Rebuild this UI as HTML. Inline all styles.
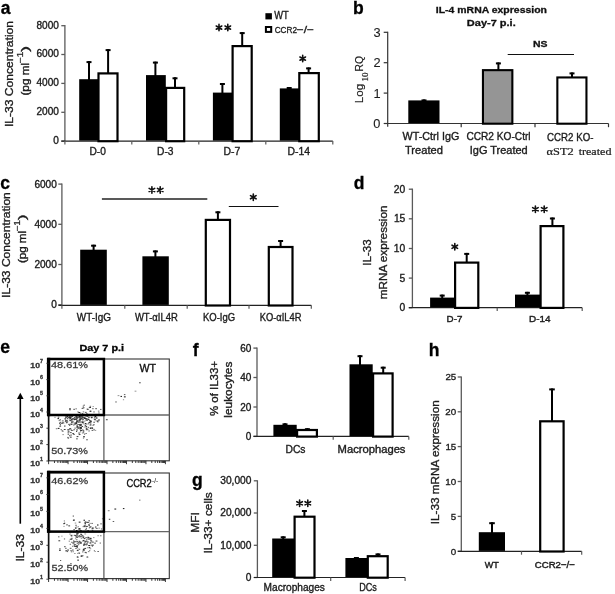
<!DOCTYPE html>
<html><head><meta charset="utf-8"><style>
html,body{margin:0;padding:0;background:#fff;}
body{width:615px;height:594px;overflow:hidden;}
svg{display:block;font-family:"Liberation Sans",sans-serif;filter:grayscale(1);}
</style></head><body>
<svg width="615" height="594" viewBox="0 0 615 594" fill="#1c1c1c">
<rect width="615" height="594" fill="#fff"/>
<text x="0.67" y="13.70" font-size="17.5" font-weight="bold" fill="#000" stroke="#000" stroke-width="0.3">a</text>
<line x1="64.90" y1="25.00" x2="64.90" y2="141.10" stroke="#5a5a5a" stroke-width="1.3"/>
<line x1="61.30" y1="25.70" x2="64.90" y2="25.70" stroke="#5a5a5a" stroke-width="1.3"/>
<line x1="61.30" y1="54.50" x2="64.90" y2="54.50" stroke="#5a5a5a" stroke-width="1.3"/>
<line x1="61.30" y1="83.40" x2="64.90" y2="83.40" stroke="#5a5a5a" stroke-width="1.3"/>
<line x1="61.30" y1="112.30" x2="64.90" y2="112.30" stroke="#5a5a5a" stroke-width="1.3"/>
<line x1="61.30" y1="141.10" x2="64.90" y2="141.10" stroke="#5a5a5a" stroke-width="1.3"/>
<text x="36.48" y="28.50" font-size="10.1" textLength="22.47" lengthAdjust="spacingAndGlyphs" stroke="#1c1c1c" stroke-width="0.35">8000</text>
<text x="36.48" y="57.30" font-size="10.1" textLength="22.47" lengthAdjust="spacingAndGlyphs" stroke="#1c1c1c" stroke-width="0.35">6000</text>
<text x="36.48" y="86.20" font-size="10.1" textLength="22.47" lengthAdjust="spacingAndGlyphs" stroke="#1c1c1c" stroke-width="0.35">4000</text>
<text x="36.48" y="115.10" font-size="10.1" textLength="22.47" lengthAdjust="spacingAndGlyphs" stroke="#1c1c1c" stroke-width="0.35">2000</text>
<text x="53.35" y="143.90" font-size="10.1" textLength="5.62" lengthAdjust="spacingAndGlyphs" stroke="#1c1c1c" stroke-width="0.35">0</text>
<line x1="61.30" y1="141.10" x2="332.80" y2="141.10" stroke="#222" stroke-width="1.2"/>
<line x1="64.90" y1="141.10" x2="64.90" y2="144.50" stroke="#5a5a5a" stroke-width="1.2"/>
<line x1="131.80" y1="141.10" x2="131.80" y2="144.50" stroke="#5a5a5a" stroke-width="1.2"/>
<line x1="198.80" y1="141.10" x2="198.80" y2="144.50" stroke="#5a5a5a" stroke-width="1.2"/>
<line x1="265.80" y1="141.10" x2="265.80" y2="144.50" stroke="#5a5a5a" stroke-width="1.2"/>
<line x1="332.80" y1="141.10" x2="332.80" y2="144.50" stroke="#5a5a5a" stroke-width="1.2"/>
<line x1="89.00" y1="80.20" x2="89.00" y2="61.10" stroke="#000" stroke-width="2"/>
<line x1="86.50" y1="62.10" x2="91.50" y2="62.10" stroke="#000" stroke-width="2"/>
<rect x="79.20" y="79.20" width="19.40" height="61.40" fill="#000"/>
<line x1="108.10" y1="73.30" x2="108.10" y2="49.10" stroke="#000" stroke-width="2"/>
<line x1="105.60" y1="50.10" x2="110.60" y2="50.10" stroke="#000" stroke-width="2"/>
<rect x="98.50" y="73.40" width="19.00" height="67.80" fill="#fff" stroke="#000" stroke-width="2.2"/>
<line x1="155.40" y1="76.10" x2="155.40" y2="61.60" stroke="#000" stroke-width="2"/>
<line x1="152.90" y1="62.60" x2="157.90" y2="62.60" stroke="#000" stroke-width="2"/>
<rect x="146.00" y="75.10" width="19.80" height="65.50" fill="#000"/>
<line x1="175.00" y1="87.80" x2="175.00" y2="77.30" stroke="#000" stroke-width="2"/>
<line x1="172.50" y1="78.30" x2="177.50" y2="78.30" stroke="#000" stroke-width="2"/>
<rect x="166.10" y="87.90" width="18.10" height="53.30" fill="#fff" stroke="#000" stroke-width="2.2"/>
<line x1="222.40" y1="93.60" x2="222.40" y2="83.00" stroke="#000" stroke-width="2"/>
<line x1="219.90" y1="84.00" x2="224.90" y2="84.00" stroke="#000" stroke-width="2"/>
<rect x="212.90" y="92.60" width="19.10" height="48.00" fill="#000"/>
<line x1="242.20" y1="46.00" x2="242.20" y2="32.10" stroke="#000" stroke-width="2"/>
<line x1="239.70" y1="33.10" x2="244.70" y2="33.10" stroke="#000" stroke-width="2"/>
<rect x="232.60" y="46.10" width="19.10" height="95.10" fill="#fff" stroke="#000" stroke-width="2.2"/>
<line x1="289.20" y1="89.40" x2="289.20" y2="87.00" stroke="#000" stroke-width="2"/>
<line x1="286.70" y1="88.00" x2="291.70" y2="88.00" stroke="#000" stroke-width="2"/>
<rect x="279.80" y="88.40" width="19.20" height="52.20" fill="#000"/>
<line x1="308.60" y1="73.00" x2="308.60" y2="67.40" stroke="#000" stroke-width="2"/>
<line x1="306.10" y1="68.40" x2="311.10" y2="68.40" stroke="#000" stroke-width="2"/>
<rect x="299.30" y="73.10" width="19.50" height="68.10" fill="#fff" stroke="#000" stroke-width="2.2"/>
<path d="M219.00,24.40L219.00,30.80M216.23,26.00L221.77,29.20M221.77,26.00L216.23,29.20" stroke="#111" stroke-width="1.6" stroke-linecap="round" fill="none"/>
<path d="M227.80,24.40L227.80,30.80M225.03,26.00L230.57,29.20M230.57,26.00L225.03,29.20" stroke="#111" stroke-width="1.6" stroke-linecap="round" fill="none"/>
<path d="M302.70,55.40L302.70,61.80M299.93,57.00L305.47,60.20M305.47,57.00L299.93,60.20" stroke="#111" stroke-width="1.6" stroke-linecap="round" fill="none"/>
<rect x="265.40" y="13.20" width="6.50" height="6.20" fill="#000"/>
<text x="274.35" y="18.90" font-size="10.0" textLength="14.43" lengthAdjust="spacingAndGlyphs" stroke="#1c1c1c" stroke-width="0.35">WT</text>
<rect x="265.90" y="27.00" width="5.30" height="4.90" fill="#fff" stroke="#000" stroke-width="2.0"/>
<text x="274.69" y="32.50" font-size="9.9" textLength="22.34" lengthAdjust="spacingAndGlyphs" stroke="#1c1c1c" stroke-width="0.34125">CCR2</text>
<text x="296.70" y="32.50" font-size="9.9" textLength="17.31" lengthAdjust="spacingAndGlyphs" stroke="#1c1c1c" stroke-width="0.34125">−/−</text>
<text x="13.00" y="127.09" font-size="11.8" textLength="106.11" lengthAdjust="spacingAndGlyphs" transform="rotate(-90 13.00 127.09)" stroke="#1c1c1c" stroke-width="0.35">IL-33 Concentration</text>
<text x="28.60" y="95.61" font-size="11.4" textLength="32.83" lengthAdjust="spacingAndGlyphs" transform="rotate(-90 28.60 95.61)" stroke="#1c1c1c" stroke-width="0.35">(pg ml</text>
<text x="23.20" y="63.64" font-size="8.6" textLength="12.10" lengthAdjust="spacingAndGlyphs" transform="rotate(-90 23.20 63.64)" stroke="#1c1c1c" stroke-width="0.22749999999999995">−1</text>
<text x="28.60" y="51.97" font-size="11.4" textLength="6.01" lengthAdjust="spacingAndGlyphs" transform="rotate(-90 28.60 51.97)" stroke="#1c1c1c" stroke-width="0.35">)</text>
<text x="89.49" y="155.00" font-size="10.0" textLength="16.38" lengthAdjust="spacingAndGlyphs" stroke="#1c1c1c" stroke-width="0.35">D-0</text>
<text x="157.08" y="155.00" font-size="10.0" textLength="16.44" lengthAdjust="spacingAndGlyphs" stroke="#1c1c1c" stroke-width="0.35">D-3</text>
<text x="223.57" y="155.00" font-size="10.0" textLength="16.77" lengthAdjust="spacingAndGlyphs" stroke="#1c1c1c" stroke-width="0.35">D-7</text>
<text x="287.47" y="155.00" font-size="10.0" textLength="22.57" lengthAdjust="spacingAndGlyphs" stroke="#1c1c1c" stroke-width="0.35">D-14</text>
<text x="352.96" y="13.80" font-size="17.5" font-weight="bold" fill="#000" stroke="#000" stroke-width="0.3">b</text>
<text x="435.82" y="13.20" font-size="9.4" textLength="111.13" lengthAdjust="spacingAndGlyphs" font-weight="bold" fill="#111" stroke="#111" stroke-width="0.3">IL-4 mRNA expression</text>
<text x="466.89" y="26.40" font-size="9.4" textLength="48.84" lengthAdjust="spacingAndGlyphs" font-weight="bold" fill="#111" stroke="#111" stroke-width="0.3">Day-7 p.i.</text>
<line x1="387.70" y1="31.80" x2="387.70" y2="126.80" stroke="#333" stroke-width="1.2"/>
<line x1="383.70" y1="32.30" x2="387.70" y2="32.30" stroke="#333" stroke-width="1.2"/>
<line x1="383.70" y1="62.70" x2="387.70" y2="62.70" stroke="#333" stroke-width="1.2"/>
<line x1="383.70" y1="93.10" x2="387.70" y2="93.10" stroke="#333" stroke-width="1.2"/>
<line x1="383.70" y1="123.50" x2="387.70" y2="123.50" stroke="#333" stroke-width="1.2"/>
<text x="373.41" y="36.80" font-size="12.8" textLength="7.12" lengthAdjust="spacingAndGlyphs" stroke="#1c1c1c" stroke-width="0.1">3</text>
<text x="373.54" y="67.20" font-size="12.8" textLength="7.12" lengthAdjust="spacingAndGlyphs" stroke="#1c1c1c" stroke-width="0.1">2</text>
<text x="373.47" y="97.60" font-size="12.8" textLength="7.12" lengthAdjust="spacingAndGlyphs" stroke="#1c1c1c" stroke-width="0.1">1</text>
<text x="373.34" y="128.00" font-size="12.8" textLength="7.12" lengthAdjust="spacingAndGlyphs" stroke="#1c1c1c" stroke-width="0.1">0</text>
<line x1="387.70" y1="123.50" x2="608.50" y2="123.50" stroke="#333" stroke-width="1.2"/>
<line x1="461.20" y1="123.50" x2="461.20" y2="127.20" stroke="#333" stroke-width="1.2"/>
<line x1="535.00" y1="123.50" x2="535.00" y2="127.20" stroke="#333" stroke-width="1.2"/>
<line x1="608.50" y1="123.50" x2="608.50" y2="127.20" stroke="#333" stroke-width="1.2"/>
<line x1="424.00" y1="101.50" x2="424.00" y2="99.40" stroke="#000" stroke-width="2"/>
<line x1="421.50" y1="100.40" x2="426.50" y2="100.40" stroke="#000" stroke-width="2"/>
<rect x="408.30" y="100.40" width="31.20" height="22.70" fill="#000"/>
<line x1="498.40" y1="70.00" x2="498.40" y2="62.40" stroke="#000" stroke-width="2"/>
<line x1="495.90" y1="63.40" x2="500.90" y2="63.40" stroke="#000" stroke-width="2"/>
<rect x="482.95" y="70.15" width="29.40" height="53.55" fill="#959595" stroke="#000" stroke-width="2.1"/>
<line x1="572.00" y1="77.50" x2="572.00" y2="72.40" stroke="#000" stroke-width="2"/>
<line x1="569.50" y1="73.40" x2="574.50" y2="73.40" stroke="#000" stroke-width="2"/>
<rect x="557.35" y="77.45" width="29.10" height="46.25" fill="#fff" stroke="#000" stroke-width="2.1"/>
<line x1="507.70" y1="54.50" x2="574.00" y2="54.50" stroke="#111" stroke-width="1.2"/>
<text x="533.02" y="47.00" font-size="9.4" textLength="14.49" lengthAdjust="spacingAndGlyphs" font-weight="bold" fill="#111" stroke="#111" stroke-width="0.3">NS</text>
<text x="402.55" y="140.40" font-size="10.4" textLength="56.73" lengthAdjust="spacingAndGlyphs" stroke="#1c1c1c" stroke-width="0.35">WT-Ctrl IgG</text>
<text x="404.98" y="154.40" font-size="10.4" textLength="37.94" lengthAdjust="spacingAndGlyphs" stroke="#1c1c1c" stroke-width="0.35">Treated</text>
<text x="466.39" y="140.40" font-size="10.4" textLength="64.20" lengthAdjust="spacingAndGlyphs" stroke="#1c1c1c" stroke-width="0.35">CCR2 KO-Ctrl</text>
<text x="469.81" y="154.40" font-size="10.4" textLength="57.91" lengthAdjust="spacingAndGlyphs" stroke="#1c1c1c" stroke-width="0.35">IgG Treated</text>
<text x="547.12" y="140.80" font-size="10.4" textLength="46.31" lengthAdjust="spacingAndGlyphs" stroke="#1c1c1c" stroke-width="0.35">CCR2 KO-</text>
<text x="546.61" y="154.80" font-size="11.3" textLength="27.09" lengthAdjust="spacingAndGlyphs" font-family="'Liberation Serif',serif" stroke="#1c1c1c" stroke-width="0.22">αST2</text>
<text x="578.68" y="154.80" font-size="11.3" textLength="32.74" lengthAdjust="spacingAndGlyphs" font-family="'Liberation Serif',serif" stroke="#1c1c1c" stroke-width="0.22">treated</text>
<text x="363.40" y="103.23" font-size="11.0" textLength="19.32" lengthAdjust="spacingAndGlyphs" transform="rotate(-90 363.40 103.23)" stroke="#1c1c1c" stroke-width="0.15">Log</text>
<text x="368.10" y="81.58" font-size="9.0" textLength="9.14" lengthAdjust="spacingAndGlyphs" font-family="'Liberation Serif',serif" transform="rotate(-90 368.10 81.58)" stroke="#1c1c1c" stroke-width="0.22">10</text>
<text x="363.10" y="71.43" font-size="11.0" textLength="15.55" lengthAdjust="spacingAndGlyphs" transform="rotate(-90 363.10 71.43)" stroke="#1c1c1c" stroke-width="0.15">RQ</text>
<text x="0.30" y="188.70" font-size="17.5" font-weight="bold" fill="#000" stroke="#000" stroke-width="0.3">c</text>
<line x1="61.90" y1="183.50" x2="61.90" y2="305.30" stroke="#5a5a5a" stroke-width="1.3"/>
<line x1="58.30" y1="184.10" x2="61.90" y2="184.10" stroke="#5a5a5a" stroke-width="1.3"/>
<line x1="58.30" y1="224.30" x2="61.90" y2="224.30" stroke="#5a5a5a" stroke-width="1.3"/>
<line x1="58.30" y1="264.50" x2="61.90" y2="264.50" stroke="#5a5a5a" stroke-width="1.3"/>
<line x1="58.30" y1="304.80" x2="61.90" y2="304.80" stroke="#5a5a5a" stroke-width="1.3"/>
<text x="34.38" y="187.70" font-size="10.1" textLength="22.47" lengthAdjust="spacingAndGlyphs" stroke="#1c1c1c" stroke-width="0.35">6000</text>
<text x="34.38" y="227.90" font-size="10.1" textLength="22.47" lengthAdjust="spacingAndGlyphs" stroke="#1c1c1c" stroke-width="0.35">4000</text>
<text x="34.38" y="268.10" font-size="10.1" textLength="22.47" lengthAdjust="spacingAndGlyphs" stroke="#1c1c1c" stroke-width="0.35">2000</text>
<text x="51.25" y="308.40" font-size="10.1" textLength="5.62" lengthAdjust="spacingAndGlyphs" stroke="#1c1c1c" stroke-width="0.35">0</text>
<line x1="58.40" y1="305.30" x2="311.30" y2="305.30" stroke="#222" stroke-width="1.2"/>
<line x1="61.90" y1="305.30" x2="61.90" y2="308.70" stroke="#5a5a5a" stroke-width="1.2"/>
<line x1="124.80" y1="305.30" x2="124.80" y2="308.70" stroke="#5a5a5a" stroke-width="1.2"/>
<line x1="187.20" y1="305.30" x2="187.20" y2="308.70" stroke="#5a5a5a" stroke-width="1.2"/>
<line x1="249.00" y1="305.30" x2="249.00" y2="308.70" stroke="#5a5a5a" stroke-width="1.2"/>
<line x1="311.30" y1="305.30" x2="311.30" y2="308.70" stroke="#5a5a5a" stroke-width="1.2"/>
<line x1="93.60" y1="251.00" x2="93.60" y2="244.70" stroke="#000" stroke-width="2"/>
<line x1="91.10" y1="245.70" x2="96.10" y2="245.70" stroke="#000" stroke-width="2"/>
<rect x="80.20" y="249.70" width="26.60" height="55.20" fill="#000"/>
<line x1="155.40" y1="258.00" x2="155.40" y2="250.40" stroke="#000" stroke-width="2"/>
<line x1="152.90" y1="251.40" x2="157.90" y2="251.40" stroke="#000" stroke-width="2"/>
<rect x="142.40" y="256.30" width="26.40" height="48.60" fill="#000"/>
<line x1="217.90" y1="220.00" x2="217.90" y2="211.30" stroke="#000" stroke-width="2"/>
<line x1="215.40" y1="212.30" x2="220.40" y2="212.30" stroke="#000" stroke-width="2"/>
<rect x="205.80" y="219.90" width="24.20" height="85.60" fill="#fff" stroke="#000" stroke-width="2.2"/>
<line x1="280.60" y1="247.00" x2="280.60" y2="240.00" stroke="#000" stroke-width="2"/>
<line x1="278.10" y1="241.00" x2="283.10" y2="241.00" stroke="#000" stroke-width="2"/>
<rect x="268.80" y="247.00" width="23.70" height="58.50" fill="#fff" stroke="#000" stroke-width="2.2"/>
<line x1="101.90" y1="199.00" x2="207.30" y2="199.00" stroke="#222" stroke-width="1.7"/>
<path d="M151.90,186.80L151.90,193.20M149.13,188.40L154.67,191.60M154.67,188.40L149.13,191.60" stroke="#111" stroke-width="1.6" stroke-linecap="round" fill="none"/>
<path d="M160.20,186.80L160.20,193.20M157.43,188.40L162.97,191.60M162.97,188.40L157.43,191.60" stroke="#111" stroke-width="1.6" stroke-linecap="round" fill="none"/>
<line x1="228.80" y1="206.50" x2="278.50" y2="206.50" stroke="#111" stroke-width="1.2"/>
<path d="M253.30,194.00L253.30,200.40M250.53,195.60L256.07,198.80M256.07,195.60L250.53,198.80" stroke="#111" stroke-width="1.6" stroke-linecap="round" fill="none"/>
<text x="9.70" y="297.88" font-size="11.8" textLength="105.71" lengthAdjust="spacingAndGlyphs" transform="rotate(-90 9.70 297.88)" stroke="#1c1c1c" stroke-width="0.35">IL-33 Concentration</text>
<text x="25.60" y="263.10" font-size="11.4" textLength="32.21" lengthAdjust="spacingAndGlyphs" transform="rotate(-90 25.60 263.10)" stroke="#1c1c1c" stroke-width="0.35">(pg ml</text>
<text x="20.20" y="231.73" font-size="8.6" textLength="11.87" lengthAdjust="spacingAndGlyphs" transform="rotate(-90 20.20 231.73)" stroke="#1c1c1c" stroke-width="0.22749999999999995">−1</text>
<text x="25.60" y="220.28" font-size="11.4" textLength="5.89" lengthAdjust="spacingAndGlyphs" transform="rotate(-90 25.60 220.28)" stroke="#1c1c1c" stroke-width="0.35">)</text>
<text x="76.85" y="321.10" font-size="10.0" textLength="34.19" lengthAdjust="spacingAndGlyphs" stroke="#1c1c1c" stroke-width="0.35">WT-IgG</text>
<text x="134.95" y="321.10" font-size="10.0" textLength="42.80" lengthAdjust="spacingAndGlyphs" stroke="#1c1c1c" stroke-width="0.35">WT-αIL4R</text>
<text x="202.94" y="321.10" font-size="10.0" textLength="32.17" lengthAdjust="spacingAndGlyphs" stroke="#1c1c1c" stroke-width="0.35">KO-IgG</text>
<text x="259.65" y="321.10" font-size="10.0" textLength="41.80" lengthAdjust="spacingAndGlyphs" stroke="#1c1c1c" stroke-width="0.35">KO-αIL4R</text>
<text x="353.80" y="188.70" font-size="17.5" font-weight="bold" fill="#000" stroke="#000" stroke-width="0.3">d</text>
<line x1="412.40" y1="188.60" x2="412.40" y2="307.70" stroke="#5a5a5a" stroke-width="1.3"/>
<line x1="408.80" y1="189.20" x2="412.40" y2="189.20" stroke="#5a5a5a" stroke-width="1.3"/>
<line x1="408.80" y1="218.80" x2="412.40" y2="218.80" stroke="#5a5a5a" stroke-width="1.3"/>
<line x1="408.80" y1="248.50" x2="412.40" y2="248.50" stroke="#5a5a5a" stroke-width="1.3"/>
<line x1="408.80" y1="278.10" x2="412.40" y2="278.10" stroke="#5a5a5a" stroke-width="1.3"/>
<line x1="408.80" y1="307.70" x2="412.40" y2="307.70" stroke="#5a5a5a" stroke-width="1.3"/>
<text x="393.83" y="192.60" font-size="10.3" textLength="11.46" lengthAdjust="spacingAndGlyphs" stroke="#1c1c1c" stroke-width="0.35">20</text>
<text x="393.88" y="222.20" font-size="10.3" textLength="11.46" lengthAdjust="spacingAndGlyphs" stroke="#1c1c1c" stroke-width="0.35">15</text>
<text x="393.83" y="251.90" font-size="10.3" textLength="11.46" lengthAdjust="spacingAndGlyphs" stroke="#1c1c1c" stroke-width="0.35">10</text>
<text x="399.60" y="281.50" font-size="10.3" textLength="5.73" lengthAdjust="spacingAndGlyphs" stroke="#1c1c1c" stroke-width="0.35">5</text>
<text x="399.54" y="311.10" font-size="10.3" textLength="5.73" lengthAdjust="spacingAndGlyphs" stroke="#1c1c1c" stroke-width="0.35">0</text>
<line x1="408.80" y1="307.70" x2="582.20" y2="307.70" stroke="#222" stroke-width="1.2"/>
<line x1="497.20" y1="307.70" x2="497.20" y2="311.10" stroke="#5a5a5a" stroke-width="1.2"/>
<line x1="582.20" y1="307.70" x2="582.20" y2="311.10" stroke="#5a5a5a" stroke-width="1.2"/>
<line x1="442.20" y1="298.00" x2="442.20" y2="294.60" stroke="#000" stroke-width="2"/>
<line x1="439.70" y1="295.60" x2="444.70" y2="295.60" stroke="#000" stroke-width="2"/>
<rect x="430.10" y="297.60" width="24.50" height="9.70" fill="#000"/>
<line x1="466.70" y1="262.00" x2="466.70" y2="252.90" stroke="#000" stroke-width="2"/>
<line x1="464.20" y1="253.90" x2="469.20" y2="253.90" stroke="#000" stroke-width="2"/>
<rect x="455.10" y="262.60" width="23.20" height="45.30" fill="#fff" stroke="#000" stroke-width="2.2"/>
<line x1="527.40" y1="295.00" x2="527.40" y2="291.80" stroke="#000" stroke-width="2"/>
<line x1="524.90" y1="292.80" x2="529.90" y2="292.80" stroke="#000" stroke-width="2"/>
<rect x="515.00" y="294.60" width="25.00" height="12.70" fill="#000"/>
<line x1="552.40" y1="226.00" x2="552.40" y2="217.50" stroke="#000" stroke-width="2"/>
<line x1="549.90" y1="218.50" x2="554.90" y2="218.50" stroke="#000" stroke-width="2"/>
<rect x="540.60" y="226.10" width="22.80" height="81.80" fill="#fff" stroke="#000" stroke-width="2.2"/>
<path d="M454.80,243.60L454.80,250.00M452.03,245.20L457.57,248.40M457.57,245.20L452.03,248.40" stroke="#111" stroke-width="1.6" stroke-linecap="round" fill="none"/>
<path d="M535.40,206.00L535.40,212.40M532.63,207.60L538.17,210.80M538.17,207.60L532.63,210.80" stroke="#111" stroke-width="1.6" stroke-linecap="round" fill="none"/>
<path d="M544.20,206.00L544.20,212.40M541.43,207.60L546.97,210.80M546.97,207.60L541.43,210.80" stroke="#111" stroke-width="1.6" stroke-linecap="round" fill="none"/>
<text x="371.40" y="265.64" font-size="11.8" textLength="26.29" lengthAdjust="spacingAndGlyphs" transform="rotate(-90 371.40 265.64)" stroke="#1c1c1c" stroke-width="0.35">IL-33</text>
<text x="386.80" y="299.26" font-size="11.6" textLength="93.76" lengthAdjust="spacingAndGlyphs" transform="rotate(-90 386.80 299.26)" stroke="#1c1c1c" stroke-width="0.35">mRNA expression</text>
<text x="446.62" y="321.70" font-size="9.8" textLength="15.79" lengthAdjust="spacingAndGlyphs" stroke="#1c1c1c" stroke-width="0.4">D-7</text>
<text x="529.01" y="321.70" font-size="9.8" textLength="21.52" lengthAdjust="spacingAndGlyphs" stroke="#1c1c1c" stroke-width="0.4">D-14</text>
<text x="0.30" y="353.40" font-size="17.5" font-weight="bold" fill="#000" stroke="#000" stroke-width="0.3">e</text>
<text x="79.50" y="351.40" font-size="9.6" textLength="44.54" lengthAdjust="spacingAndGlyphs" font-weight="bold" fill="#000" stroke="#000" stroke-width="0.3">Day 7 p.i</text>
<line x1="20.30" y1="397.50" x2="20.30" y2="523.70" stroke="#000" stroke-width="1.6"/>
<polygon points="20.3,392.8 17.0,399.0 23.6,399.0" fill="#000"/>
<text x="24.40" y="561.59" font-size="11.0" textLength="27.56" lengthAdjust="spacingAndGlyphs" transform="rotate(-90 24.40 561.59)" stroke="#1c1c1c" stroke-width="0.35">IL-33</text>
<rect x="48.60" y="359.00" width="120.70" height="101.80" fill="#fff" stroke="#333" stroke-width="1.1"/>
<line x1="103.90" y1="359.00" x2="103.90" y2="460.80" stroke="#555" stroke-width="1.2"/>
<line x1="48.60" y1="415.00" x2="169.30" y2="415.00" stroke="#666" stroke-width="1.3"/>
<rect x="64.0" y="425.6" width="1.5" height="0.9" fill="#2a2a2a" fill-opacity="1.0"/>
<rect x="88.4" y="419.4" width="1.5" height="0.9" fill="#2a2a2a" fill-opacity="0.55"/>
<rect x="62.9" y="422.5" width="1.5" height="1.1" fill="#2a2a2a" fill-opacity="0.55"/>
<rect x="82.8" y="430.7" width="1.5" height="0.9" fill="#2a2a2a" fill-opacity="1.0"/>
<rect x="85.3" y="426.3" width="1.8" height="0.9" fill="#2a2a2a" fill-opacity="0.85"/>
<rect x="94.4" y="429.9" width="1.8" height="0.9" fill="#2a2a2a" fill-opacity="0.55"/>
<rect x="76.4" y="421.1" width="1.5" height="1.1" fill="#2a2a2a" fill-opacity="0.7"/>
<rect x="78.6" y="424.0" width="1.2" height="0.9" fill="#2a2a2a" fill-opacity="1.0"/>
<rect x="73.7" y="422.6" width="1.8" height="0.9" fill="#2a2a2a" fill-opacity="0.85"/>
<rect x="80.5" y="427.8" width="1.2" height="1.1" fill="#2a2a2a" fill-opacity="1.0"/>
<rect x="89.6" y="424.5" width="1.8" height="1.1" fill="#2a2a2a" fill-opacity="0.85"/>
<rect x="57.8" y="427.9" width="1.2" height="1.1" fill="#2a2a2a" fill-opacity="0.85"/>
<rect x="61.9" y="421.8" width="1.8" height="0.9" fill="#2a2a2a" fill-opacity="0.85"/>
<rect x="61.3" y="423.0" width="1.8" height="0.9" fill="#2a2a2a" fill-opacity="0.7"/>
<rect x="68.9" y="424.5" width="1.2" height="1.1" fill="#2a2a2a" fill-opacity="0.55"/>
<rect x="74.3" y="427.6" width="1.8" height="1.1" fill="#2a2a2a" fill-opacity="0.55"/>
<rect x="76.5" y="425.6" width="1.5" height="0.9" fill="#2a2a2a" fill-opacity="0.7"/>
<rect x="78.6" y="416.0" width="1.2" height="1.1" fill="#2a2a2a" fill-opacity="0.7"/>
<rect x="83.7" y="417.3" width="1.8" height="0.9" fill="#2a2a2a" fill-opacity="1.0"/>
<rect x="98.1" y="419.5" width="1.8" height="0.9" fill="#2a2a2a" fill-opacity="1.0"/>
<rect x="85.0" y="423.0" width="1.2" height="1.1" fill="#2a2a2a" fill-opacity="1.0"/>
<rect x="88.0" y="418.8" width="1.2" height="1.1" fill="#2a2a2a" fill-opacity="1.0"/>
<rect x="88.5" y="422.1" width="1.5" height="1.1" fill="#2a2a2a" fill-opacity="1.0"/>
<rect x="91.4" y="427.4" width="1.5" height="0.9" fill="#2a2a2a" fill-opacity="1.0"/>
<rect x="79.1" y="417.5" width="1.2" height="1.1" fill="#2a2a2a" fill-opacity="0.55"/>
<rect x="85.9" y="426.3" width="1.2" height="0.9" fill="#2a2a2a" fill-opacity="1.0"/>
<rect x="95.6" y="420.4" width="1.8" height="1.1" fill="#2a2a2a" fill-opacity="0.55"/>
<rect x="83.6" y="426.6" width="1.8" height="0.9" fill="#2a2a2a" fill-opacity="0.55"/>
<rect x="80.6" y="424.5" width="1.5" height="1.1" fill="#2a2a2a" fill-opacity="1.0"/>
<rect x="79.5" y="418.8" width="1.2" height="1.1" fill="#2a2a2a" fill-opacity="0.7"/>
<rect x="66.3" y="420.2" width="1.5" height="0.9" fill="#2a2a2a" fill-opacity="0.85"/>
<rect x="84.0" y="433.6" width="1.2" height="1.1" fill="#2a2a2a" fill-opacity="0.7"/>
<rect x="88.2" y="430.4" width="1.8" height="1.1" fill="#2a2a2a" fill-opacity="0.55"/>
<rect x="86.1" y="427.9" width="1.2" height="0.9" fill="#2a2a2a" fill-opacity="0.55"/>
<rect x="79.5" y="428.4" width="1.2" height="0.9" fill="#2a2a2a" fill-opacity="0.7"/>
<rect x="97.0" y="420.7" width="1.2" height="1.1" fill="#2a2a2a" fill-opacity="0.85"/>
<rect x="69.9" y="436.7" width="1.8" height="0.9" fill="#2a2a2a" fill-opacity="1.0"/>
<rect x="80.2" y="429.8" width="1.8" height="1.1" fill="#2a2a2a" fill-opacity="0.55"/>
<rect x="79.4" y="428.3" width="1.8" height="1.1" fill="#2a2a2a" fill-opacity="0.55"/>
<rect x="78.9" y="416.8" width="1.2" height="1.1" fill="#2a2a2a" fill-opacity="0.7"/>
<rect x="76.3" y="425.6" width="1.8" height="0.9" fill="#2a2a2a" fill-opacity="1.0"/>
<rect x="89.8" y="428.0" width="1.2" height="0.9" fill="#2a2a2a" fill-opacity="1.0"/>
<rect x="78.2" y="432.5" width="1.8" height="1.1" fill="#2a2a2a" fill-opacity="0.7"/>
<rect x="69.1" y="428.6" width="1.5" height="1.1" fill="#2a2a2a" fill-opacity="0.85"/>
<rect x="89.7" y="421.0" width="1.5" height="0.9" fill="#2a2a2a" fill-opacity="0.85"/>
<rect x="57.8" y="416.7" width="1.5" height="0.9" fill="#2a2a2a" fill-opacity="0.85"/>
<rect x="80.1" y="426.7" width="1.2" height="0.9" fill="#2a2a2a" fill-opacity="0.55"/>
<rect x="94.5" y="416.0" width="1.8" height="1.1" fill="#2a2a2a" fill-opacity="1.0"/>
<rect x="77.5" y="427.5" width="1.8" height="0.9" fill="#2a2a2a" fill-opacity="1.0"/>
<rect x="86.4" y="439.2" width="1.2" height="1.1" fill="#2a2a2a" fill-opacity="1.0"/>
<rect x="88.5" y="416.6" width="1.2" height="1.1" fill="#2a2a2a" fill-opacity="0.55"/>
<rect x="73.0" y="424.6" width="1.5" height="0.9" fill="#2a2a2a" fill-opacity="0.7"/>
<rect x="78.8" y="433.9" width="1.8" height="0.9" fill="#2a2a2a" fill-opacity="0.85"/>
<rect x="76.6" y="436.0" width="1.8" height="1.1" fill="#2a2a2a" fill-opacity="0.85"/>
<rect x="70.0" y="419.7" width="1.5" height="1.1" fill="#2a2a2a" fill-opacity="0.55"/>
<rect x="85.4" y="433.0" width="1.5" height="0.9" fill="#2a2a2a" fill-opacity="0.7"/>
<rect x="84.7" y="425.1" width="1.5" height="0.9" fill="#2a2a2a" fill-opacity="0.85"/>
<rect x="57.5" y="418.0" width="1.5" height="1.1" fill="#2a2a2a" fill-opacity="1.0"/>
<rect x="70.8" y="419.3" width="1.8" height="1.1" fill="#2a2a2a" fill-opacity="1.0"/>
<rect x="84.0" y="420.7" width="1.5" height="0.9" fill="#2a2a2a" fill-opacity="0.55"/>
<rect x="86.2" y="423.6" width="1.2" height="0.9" fill="#2a2a2a" fill-opacity="0.7"/>
<rect x="73.8" y="423.8" width="1.8" height="0.9" fill="#2a2a2a" fill-opacity="0.7"/>
<rect x="82.2" y="429.0" width="1.2" height="1.1" fill="#2a2a2a" fill-opacity="0.55"/>
<rect x="72.2" y="421.4" width="1.5" height="0.9" fill="#2a2a2a" fill-opacity="0.55"/>
<rect x="62.5" y="434.2" width="1.2" height="0.9" fill="#2a2a2a" fill-opacity="0.7"/>
<rect x="93.5" y="421.7" width="1.2" height="1.1" fill="#2a2a2a" fill-opacity="1.0"/>
<rect x="79.4" y="424.4" width="1.2" height="1.1" fill="#2a2a2a" fill-opacity="1.0"/>
<rect x="93.0" y="424.3" width="1.8" height="0.9" fill="#2a2a2a" fill-opacity="0.7"/>
<rect x="59.8" y="424.3" width="1.2" height="1.1" fill="#2a2a2a" fill-opacity="1.0"/>
<rect x="89.8" y="427.0" width="1.5" height="1.1" fill="#2a2a2a" fill-opacity="0.55"/>
<rect x="67.5" y="431.5" width="1.8" height="1.1" fill="#2a2a2a" fill-opacity="0.85"/>
<rect x="60.6" y="429.2" width="1.2" height="0.9" fill="#2a2a2a" fill-opacity="0.85"/>
<rect x="86.9" y="416.1" width="1.5" height="0.9" fill="#2a2a2a" fill-opacity="0.85"/>
<rect x="69.9" y="418.1" width="1.5" height="1.1" fill="#2a2a2a" fill-opacity="0.55"/>
<rect x="64.4" y="418.2" width="1.8" height="1.1" fill="#2a2a2a" fill-opacity="0.7"/>
<rect x="91.3" y="427.8" width="1.8" height="1.1" fill="#2a2a2a" fill-opacity="0.85"/>
<rect x="76.0" y="416.1" width="1.2" height="0.9" fill="#2a2a2a" fill-opacity="0.85"/>
<rect x="57.9" y="427.9" width="1.8" height="1.1" fill="#2a2a2a" fill-opacity="0.7"/>
<rect x="93.3" y="428.9" width="1.5" height="0.9" fill="#2a2a2a" fill-opacity="0.7"/>
<rect x="92.2" y="424.8" width="1.8" height="0.9" fill="#2a2a2a" fill-opacity="0.55"/>
<rect x="69.6" y="423.6" width="1.8" height="0.9" fill="#2a2a2a" fill-opacity="0.55"/>
<rect x="77.4" y="424.1" width="1.2" height="0.9" fill="#2a2a2a" fill-opacity="1.0"/>
<rect x="72.3" y="433.0" width="1.8" height="1.1" fill="#2a2a2a" fill-opacity="0.85"/>
<rect x="79.5" y="427.1" width="1.5" height="0.9" fill="#2a2a2a" fill-opacity="0.85"/>
<rect x="90.9" y="417.3" width="1.5" height="1.1" fill="#2a2a2a" fill-opacity="0.55"/>
<rect x="55.8" y="428.3" width="1.5" height="0.9" fill="#2a2a2a" fill-opacity="0.7"/>
<rect x="69.9" y="432.2" width="1.8" height="0.9" fill="#2a2a2a" fill-opacity="0.85"/>
<rect x="81.2" y="430.0" width="1.2" height="1.1" fill="#2a2a2a" fill-opacity="0.7"/>
<rect x="85.4" y="418.3" width="1.2" height="0.9" fill="#2a2a2a" fill-opacity="0.85"/>
<rect x="69.2" y="420.0" width="1.8" height="1.1" fill="#2a2a2a" fill-opacity="0.7"/>
<rect x="85.9" y="429.2" width="1.8" height="1.1" fill="#2a2a2a" fill-opacity="0.7"/>
<rect x="76.4" y="427.2" width="1.2" height="0.9" fill="#2a2a2a" fill-opacity="1.0"/>
<rect x="69.1" y="424.7" width="1.2" height="1.1" fill="#2a2a2a" fill-opacity="0.7"/>
<rect x="80.0" y="430.1" width="1.8" height="0.9" fill="#2a2a2a" fill-opacity="0.85"/>
<rect x="68.5" y="417.2" width="1.8" height="1.1" fill="#2a2a2a" fill-opacity="0.55"/>
<rect x="69.1" y="435.3" width="1.2" height="0.9" fill="#2a2a2a" fill-opacity="1.0"/>
<rect x="89.5" y="422.1" width="1.5" height="0.9" fill="#2a2a2a" fill-opacity="0.7"/>
<rect x="80.0" y="423.8" width="1.8" height="1.1" fill="#2a2a2a" fill-opacity="0.55"/>
<rect x="79.7" y="421.5" width="1.8" height="1.1" fill="#2a2a2a" fill-opacity="0.7"/>
<rect x="70.4" y="434.6" width="1.5" height="0.9" fill="#2a2a2a" fill-opacity="0.85"/>
<rect x="83.4" y="423.5" width="1.2" height="1.1" fill="#2a2a2a" fill-opacity="0.55"/>
<rect x="75.1" y="423.4" width="1.8" height="0.9" fill="#2a2a2a" fill-opacity="0.7"/>
<rect x="81.4" y="418.5" width="1.5" height="1.1" fill="#2a2a2a" fill-opacity="0.55"/>
<rect x="79.7" y="424.7" width="1.5" height="1.1" fill="#2a2a2a" fill-opacity="1.0"/>
<rect x="69.3" y="417.5" width="1.8" height="1.1" fill="#2a2a2a" fill-opacity="0.85"/>
<rect x="66.5" y="415.6" width="1.5" height="1.1" fill="#2a2a2a" fill-opacity="1.0"/>
<rect x="74.6" y="418.7" width="1.5" height="0.9" fill="#2a2a2a" fill-opacity="0.55"/>
<rect x="70.7" y="423.7" width="1.8" height="1.1" fill="#2a2a2a" fill-opacity="1.0"/>
<rect x="89.9" y="423.5" width="1.5" height="0.9" fill="#2a2a2a" fill-opacity="0.85"/>
<rect x="76.0" y="418.7" width="1.2" height="1.1" fill="#2a2a2a" fill-opacity="1.0"/>
<rect x="76.1" y="429.4" width="1.8" height="1.1" fill="#2a2a2a" fill-opacity="0.85"/>
<rect x="62.2" y="430.7" width="1.5" height="0.9" fill="#2a2a2a" fill-opacity="0.7"/>
<rect x="81.4" y="421.3" width="1.2" height="1.1" fill="#2a2a2a" fill-opacity="0.7"/>
<rect x="93.6" y="418.4" width="1.8" height="1.1" fill="#2a2a2a" fill-opacity="0.55"/>
<rect x="85.8" y="428.6" width="1.5" height="0.9" fill="#2a2a2a" fill-opacity="0.7"/>
<rect x="67.3" y="429.3" width="1.8" height="1.1" fill="#2a2a2a" fill-opacity="1.0"/>
<rect x="89.0" y="420.3" width="1.2" height="0.9" fill="#2a2a2a" fill-opacity="0.85"/>
<rect x="73.2" y="419.1" width="1.8" height="1.1" fill="#2a2a2a" fill-opacity="0.7"/>
<rect x="82.9" y="437.6" width="1.2" height="1.1" fill="#2a2a2a" fill-opacity="0.55"/>
<rect x="58.6" y="420.2" width="1.2" height="0.9" fill="#2a2a2a" fill-opacity="0.7"/>
<rect x="67.2" y="436.9" width="1.2" height="1.1" fill="#2a2a2a" fill-opacity="0.55"/>
<rect x="83.8" y="417.9" width="1.5" height="0.9" fill="#2a2a2a" fill-opacity="0.85"/>
<rect x="87.8" y="426.8" width="1.2" height="1.1" fill="#2a2a2a" fill-opacity="0.7"/>
<rect x="59.6" y="419.3" width="1.2" height="1.1" fill="#2a2a2a" fill-opacity="1.0"/>
<rect x="74.9" y="423.1" width="1.8" height="1.1" fill="#2a2a2a" fill-opacity="0.7"/>
<rect x="79.0" y="420.6" width="1.5" height="0.9" fill="#2a2a2a" fill-opacity="0.55"/>
<rect x="79.6" y="418.9" width="1.5" height="0.9" fill="#2a2a2a" fill-opacity="1.0"/>
<rect x="67.6" y="433.6" width="1.5" height="1.1" fill="#2a2a2a" fill-opacity="0.85"/>
<rect x="81.5" y="426.1" width="1.5" height="0.9" fill="#2a2a2a" fill-opacity="1.0"/>
<rect x="60.0" y="421.8" width="1.2" height="0.9" fill="#2a2a2a" fill-opacity="0.85"/>
<rect x="89.6" y="420.3" width="1.8" height="0.9" fill="#2a2a2a" fill-opacity="0.7"/>
<rect x="81.9" y="422.1" width="1.5" height="1.1" fill="#2a2a2a" fill-opacity="1.0"/>
<rect x="79.9" y="431.4" width="1.2" height="0.9" fill="#2a2a2a" fill-opacity="0.7"/>
<rect x="73.1" y="434.0" width="1.8" height="0.9" fill="#2a2a2a" fill-opacity="0.7"/>
<rect x="68.9" y="416.5" width="1.2" height="0.9" fill="#2a2a2a" fill-opacity="0.85"/>
<rect x="85.3" y="415.5" width="1.8" height="1.1" fill="#2a2a2a" fill-opacity="0.85"/>
<rect x="73.4" y="429.3" width="1.5" height="0.9" fill="#2a2a2a" fill-opacity="0.85"/>
<rect x="83.1" y="436.2" width="1.8" height="1.1" fill="#2a2a2a" fill-opacity="1.0"/>
<rect x="90.6" y="421.3" width="1.2" height="0.9" fill="#2a2a2a" fill-opacity="0.7"/>
<rect x="70.9" y="420.9" width="1.5" height="0.9" fill="#2a2a2a" fill-opacity="0.7"/>
<rect x="64.8" y="421.1" width="1.5" height="0.9" fill="#2a2a2a" fill-opacity="0.7"/>
<rect x="75.4" y="422.0" width="1.8" height="1.1" fill="#2a2a2a" fill-opacity="0.85"/>
<rect x="90.5" y="421.4" width="1.5" height="0.9" fill="#2a2a2a" fill-opacity="0.7"/>
<rect x="61.5" y="430.4" width="1.5" height="0.9" fill="#2a2a2a" fill-opacity="0.7"/>
<rect x="65.7" y="419.9" width="1.5" height="0.9" fill="#2a2a2a" fill-opacity="0.55"/>
<rect x="76.0" y="420.6" width="1.5" height="0.9" fill="#2a2a2a" fill-opacity="1.0"/>
<rect x="66.5" y="421.3" width="1.8" height="0.9" fill="#2a2a2a" fill-opacity="0.55"/>
<rect x="76.0" y="430.9" width="1.2" height="1.1" fill="#2a2a2a" fill-opacity="0.85"/>
<rect x="85.7" y="428.3" width="1.5" height="0.9" fill="#2a2a2a" fill-opacity="0.7"/>
<rect x="68.0" y="423.9" width="1.5" height="0.9" fill="#2a2a2a" fill-opacity="0.7"/>
<rect x="83.0" y="432.1" width="1.2" height="1.1" fill="#2a2a2a" fill-opacity="0.55"/>
<rect x="82.7" y="421.3" width="1.2" height="0.9" fill="#2a2a2a" fill-opacity="0.55"/>
<rect x="77.9" y="421.5" width="1.8" height="1.1" fill="#2a2a2a" fill-opacity="1.0"/>
<rect x="80.2" y="427.7" width="1.2" height="1.1" fill="#2a2a2a" fill-opacity="0.55"/>
<rect x="73.8" y="417.3" width="1.2" height="0.9" fill="#2a2a2a" fill-opacity="0.85"/>
<rect x="68.1" y="430.7" width="1.5" height="1.1" fill="#2a2a2a" fill-opacity="0.55"/>
<rect x="91.6" y="429.9" width="1.8" height="1.1" fill="#2a2a2a" fill-opacity="0.7"/>
<rect x="86.9" y="428.8" width="1.8" height="0.9" fill="#2a2a2a" fill-opacity="0.55"/>
<rect x="77.5" y="427.6" width="1.8" height="1.1" fill="#2a2a2a" fill-opacity="0.7"/>
<rect x="65.9" y="421.6" width="1.8" height="1.1" fill="#2a2a2a" fill-opacity="0.85"/>
<rect x="69.4" y="428.1" width="1.8" height="0.9" fill="#2a2a2a" fill-opacity="0.85"/>
<rect x="71.1" y="422.2" width="1.5" height="0.9" fill="#2a2a2a" fill-opacity="1.0"/>
<rect x="81.9" y="432.5" width="1.5" height="0.9" fill="#2a2a2a" fill-opacity="0.7"/>
<rect x="68.8" y="416.4" width="1.8" height="0.9" fill="#2a2a2a" fill-opacity="1.0"/>
<rect x="82.5" y="419.0" width="1.2" height="1.1" fill="#2a2a2a" fill-opacity="0.7"/>
<rect x="85.3" y="419.5" width="1.8" height="0.9" fill="#2a2a2a" fill-opacity="1.0"/>
<rect x="67.6" y="437.5" width="1.5" height="1.1" fill="#2a2a2a" fill-opacity="0.85"/>
<rect x="82.0" y="420.6" width="1.2" height="0.9" fill="#2a2a2a" fill-opacity="0.55"/>
<rect x="78.7" y="434.2" width="1.2" height="0.9" fill="#2a2a2a" fill-opacity="0.7"/>
<rect x="77.2" y="426.2" width="1.2" height="1.1" fill="#2a2a2a" fill-opacity="1.0"/>
<rect x="83.2" y="416.6" width="1.2" height="1.1" fill="#2a2a2a" fill-opacity="0.85"/>
<rect x="78.9" y="419.5" width="1.8" height="1.1" fill="#2a2a2a" fill-opacity="0.55"/>
<rect x="63.8" y="429.1" width="1.8" height="0.9" fill="#2a2a2a" fill-opacity="1.0"/>
<rect x="84.8" y="423.5" width="1.5" height="0.9" fill="#2a2a2a" fill-opacity="0.7"/>
<rect x="82.8" y="422.3" width="1.5" height="1.1" fill="#2a2a2a" fill-opacity="0.55"/>
<rect x="59.0" y="422.6" width="1.5" height="1.1" fill="#2a2a2a" fill-opacity="1.0"/>
<rect x="60.8" y="422.8" width="1.5" height="0.9" fill="#2a2a2a" fill-opacity="0.55"/>
<rect x="79.1" y="425.5" width="1.2" height="1.1" fill="#2a2a2a" fill-opacity="0.7"/>
<rect x="79.9" y="424.2" width="1.2" height="1.1" fill="#2a2a2a" fill-opacity="0.55"/>
<rect x="65.0" y="420.3" width="1.2" height="0.9" fill="#2a2a2a" fill-opacity="1.0"/>
<rect x="71.9" y="421.4" width="1.8" height="0.9" fill="#2a2a2a" fill-opacity="0.55"/>
<rect x="80.5" y="427.3" width="1.5" height="1.1" fill="#2a2a2a" fill-opacity="1.0"/>
<rect x="81.9" y="421.6" width="1.5" height="0.9" fill="#2a2a2a" fill-opacity="0.55"/>
<rect x="59.3" y="425.8" width="1.8" height="0.9" fill="#2a2a2a" fill-opacity="0.85"/>
<rect x="71.8" y="430.0" width="1.5" height="0.9" fill="#2a2a2a" fill-opacity="0.7"/>
<rect x="65.9" y="422.3" width="1.5" height="1.1" fill="#2a2a2a" fill-opacity="0.55"/>
<rect x="76.1" y="422.3" width="1.2" height="1.1" fill="#2a2a2a" fill-opacity="0.85"/>
<rect x="82.6" y="430.0" width="1.5" height="0.9" fill="#2a2a2a" fill-opacity="0.55"/>
<rect x="76.7" y="415.9" width="1.2" height="1.1" fill="#2a2a2a" fill-opacity="0.55"/>
<rect x="79.7" y="427.0" width="1.8" height="1.1" fill="#2a2a2a" fill-opacity="0.7"/>
<rect x="75.6" y="422.9" width="1.5" height="1.1" fill="#2a2a2a" fill-opacity="0.7"/>
<rect x="69.8" y="417.8" width="1.5" height="1.1" fill="#2a2a2a" fill-opacity="0.55"/>
<rect x="66.9" y="418.1" width="1.2" height="1.1" fill="#2a2a2a" fill-opacity="0.85"/>
<rect x="97.3" y="421.6" width="1.2" height="0.9" fill="#2a2a2a" fill-opacity="0.7"/>
<rect x="76.2" y="438.4" width="1.5" height="0.9" fill="#2a2a2a" fill-opacity="1.0"/>
<rect x="81.9" y="416.4" width="1.2" height="1.1" fill="#2a2a2a" fill-opacity="0.85"/>
<rect x="78.6" y="415.9" width="1.5" height="1.1" fill="#2a2a2a" fill-opacity="1.0"/>
<rect x="76.8" y="420.4" width="1.8" height="0.9" fill="#2a2a2a" fill-opacity="1.0"/>
<rect x="70.8" y="429.6" width="1.2" height="1.1" fill="#2a2a2a" fill-opacity="1.0"/>
<rect x="87.8" y="423.4" width="1.2" height="0.9" fill="#2a2a2a" fill-opacity="0.85"/>
<rect x="75.0" y="415.9" width="1.5" height="1.1" fill="#2a2a2a" fill-opacity="0.55"/>
<rect x="69.3" y="417.1" width="1.8" height="0.9" fill="#2a2a2a" fill-opacity="0.85"/>
<rect x="95.8" y="417.5" width="1.8" height="1.1" fill="#2a2a2a" fill-opacity="0.7"/>
<rect x="82.3" y="417.4" width="1.5" height="0.9" fill="#2a2a2a" fill-opacity="0.85"/>
<rect x="79.5" y="419.5" width="1.2" height="0.9" fill="#2a2a2a" fill-opacity="0.85"/>
<rect x="86.9" y="417.9" width="1.2" height="0.9" fill="#2a2a2a" fill-opacity="0.55"/>
<rect x="76.4" y="418.1" width="1.2" height="1.1" fill="#2a2a2a" fill-opacity="1.0"/>
<rect x="67.5" y="416.8" width="1.5" height="0.9" fill="#2a2a2a" fill-opacity="1.0"/>
<rect x="93.9" y="417.0" width="1.5" height="1.1" fill="#2a2a2a" fill-opacity="0.55"/>
<rect x="95.7" y="417.4" width="1.5" height="1.1" fill="#2a2a2a" fill-opacity="0.7"/>
<rect x="81.6" y="416.8" width="1.5" height="0.9" fill="#2a2a2a" fill-opacity="0.7"/>
<rect x="64.8" y="415.6" width="1.2" height="0.9" fill="#2a2a2a" fill-opacity="0.55"/>
<rect x="86.7" y="419.4" width="1.2" height="1.1" fill="#2a2a2a" fill-opacity="1.0"/>
<rect x="86.3" y="419.5" width="1.5" height="1.1" fill="#2a2a2a" fill-opacity="0.7"/>
<rect x="77.1" y="417.1" width="1.8" height="1.1" fill="#2a2a2a" fill-opacity="0.85"/>
<rect x="90.8" y="416.8" width="1.8" height="1.1" fill="#2a2a2a" fill-opacity="1.0"/>
<rect x="65.4" y="417.0" width="1.2" height="0.9" fill="#2a2a2a" fill-opacity="0.85"/>
<rect x="74.0" y="418.7" width="1.8" height="1.1" fill="#2a2a2a" fill-opacity="1.0"/>
<rect x="76.3" y="420.6" width="1.2" height="1.1" fill="#2a2a2a" fill-opacity="0.85"/>
<rect x="79.5" y="417.8" width="1.2" height="0.9" fill="#2a2a2a" fill-opacity="0.85"/>
<rect x="80.1" y="418.1" width="1.5" height="1.1" fill="#2a2a2a" fill-opacity="0.7"/>
<rect x="90.2" y="420.3" width="1.2" height="0.9" fill="#2a2a2a" fill-opacity="0.55"/>
<rect x="61.9" y="420.2" width="1.8" height="1.1" fill="#2a2a2a" fill-opacity="0.55"/>
<rect x="80.0" y="416.9" width="1.8" height="1.1" fill="#2a2a2a" fill-opacity="0.55"/>
<rect x="68.7" y="418.5" width="1.2" height="1.1" fill="#2a2a2a" fill-opacity="0.55"/>
<rect x="88.1" y="417.2" width="1.5" height="0.9" fill="#2a2a2a" fill-opacity="0.85"/>
<rect x="54.4" y="416.8" width="1.2" height="1.1" fill="#2a2a2a" fill-opacity="0.55"/>
<rect x="75.7" y="416.9" width="1.5" height="1.1" fill="#2a2a2a" fill-opacity="0.55"/>
<rect x="71.4" y="415.9" width="1.5" height="1.1" fill="#2a2a2a" fill-opacity="0.85"/>
<rect x="81.0" y="418.1" width="1.5" height="1.1" fill="#2a2a2a" fill-opacity="0.85"/>
<rect x="74.4" y="417.3" width="1.2" height="0.9" fill="#2a2a2a" fill-opacity="1.0"/>
<rect x="64.7" y="418.5" width="1.2" height="1.1" fill="#2a2a2a" fill-opacity="0.7"/>
<rect x="71.8" y="417.9" width="1.5" height="0.9" fill="#2a2a2a" fill-opacity="0.55"/>
<rect x="70.0" y="416.5" width="1.8" height="1.1" fill="#2a2a2a" fill-opacity="1.0"/>
<rect x="79.2" y="416.0" width="1.2" height="1.1" fill="#2a2a2a" fill-opacity="0.85"/>
<rect x="97.5" y="420.3" width="1.8" height="1.1" fill="#2a2a2a" fill-opacity="0.55"/>
<rect x="74.5" y="418.7" width="1.5" height="0.9" fill="#2a2a2a" fill-opacity="0.85"/>
<rect x="66.9" y="416.0" width="1.2" height="1.1" fill="#2a2a2a" fill-opacity="0.85"/>
<rect x="80.2" y="416.2" width="1.2" height="1.1" fill="#2a2a2a" fill-opacity="1.0"/>
<rect x="83.8" y="417.7" width="1.8" height="1.1" fill="#2a2a2a" fill-opacity="1.0"/>
<rect x="78.5" y="419.6" width="1.8" height="1.1" fill="#2a2a2a" fill-opacity="0.85"/>
<rect x="76.3" y="416.8" width="1.2" height="0.9" fill="#2a2a2a" fill-opacity="0.55"/>
<rect x="75.9" y="417.3" width="1.5" height="1.1" fill="#2a2a2a" fill-opacity="0.85"/>
<rect x="94.1" y="419.1" width="1.8" height="1.1" fill="#2a2a2a" fill-opacity="0.85"/>
<rect x="65.2" y="416.6" width="1.8" height="0.9" fill="#2a2a2a" fill-opacity="1.0"/>
<rect x="71.2" y="419.1" width="1.5" height="1.1" fill="#2a2a2a" fill-opacity="0.85"/>
<rect x="82.5" y="419.3" width="1.2" height="0.9" fill="#2a2a2a" fill-opacity="0.55"/>
<rect x="85.0" y="418.0" width="1.8" height="0.9" fill="#2a2a2a" fill-opacity="1.0"/>
<rect x="80.9" y="416.1" width="1.8" height="1.1" fill="#2a2a2a" fill-opacity="0.55"/>
<rect x="72.4" y="418.2" width="1.5" height="0.9" fill="#2a2a2a" fill-opacity="1.0"/>
<rect x="89.5" y="406.9" width="1.5" height="1.1" fill="#2a2a2a" fill-opacity="1.0"/>
<rect x="77.4" y="411.5" width="1.2" height="0.9" fill="#2a2a2a" fill-opacity="0.85"/>
<rect x="89.7" y="410.7" width="1.5" height="1.1" fill="#2a2a2a" fill-opacity="0.85"/>
<rect x="75.4" y="408.4" width="1.5" height="0.9" fill="#2a2a2a" fill-opacity="0.7"/>
<rect x="82.7" y="407.3" width="1.8" height="0.9" fill="#2a2a2a" fill-opacity="0.85"/>
<rect x="86.6" y="408.6" width="1.2" height="1.1" fill="#2a2a2a" fill-opacity="0.7"/>
<rect x="93.4" y="411.5" width="1.2" height="0.9" fill="#2a2a2a" fill-opacity="1.0"/>
<rect x="83.6" y="404.7" width="1.2" height="0.9" fill="#2a2a2a" fill-opacity="1.0"/>
<rect x="84.9" y="411.9" width="1.8" height="0.9" fill="#2a2a2a" fill-opacity="0.85"/>
<rect x="82.7" y="411.3" width="1.5" height="1.1" fill="#2a2a2a" fill-opacity="0.55"/>
<rect x="82.7" y="405.6" width="1.2" height="1.1" fill="#2a2a2a" fill-opacity="0.7"/>
<rect x="95.2" y="408.1" width="1.8" height="1.1" fill="#2a2a2a" fill-opacity="0.7"/>
<rect x="88.8" y="407.2" width="1.2" height="0.9" fill="#2a2a2a" fill-opacity="0.7"/>
<rect x="81.8" y="413.2" width="1.5" height="1.1" fill="#2a2a2a" fill-opacity="0.85"/>
<rect x="86.1" y="413.3" width="1.5" height="1.1" fill="#2a2a2a" fill-opacity="0.85"/>
<rect x="79.7" y="412.5" width="1.5" height="1.1" fill="#2a2a2a" fill-opacity="0.7"/>
<rect x="78.2" y="412.1" width="1.8" height="0.9" fill="#2a2a2a" fill-opacity="0.85"/>
<rect x="89.6" y="405.8" width="1.5" height="0.9" fill="#2a2a2a" fill-opacity="0.7"/>
<rect x="92.6" y="406.1" width="1.2" height="0.9" fill="#2a2a2a" fill-opacity="0.55"/>
<rect x="92.0" y="408.1" width="1.8" height="1.1" fill="#2a2a2a" fill-opacity="0.55"/>
<rect x="97.9" y="410.6" width="1.5" height="1.1" fill="#2a2a2a" fill-opacity="0.55"/>
<rect x="73.5" y="408.8" width="1.2" height="1.1" fill="#2a2a2a" fill-opacity="1.0"/>
<rect x="100.2" y="408.9" width="1.2" height="1.1" fill="#2a2a2a" fill-opacity="0.85"/>
<rect x="87.2" y="408.8" width="1.5" height="1.1" fill="#2a2a2a" fill-opacity="0.85"/>
<rect x="69.1" y="408.2" width="1.8" height="1.1" fill="#2a2a2a" fill-opacity="0.85"/>
<rect x="89.6" y="410.7" width="1.8" height="1.1" fill="#2a2a2a" fill-opacity="0.7"/>
<rect x="98.2" y="412.5" width="1.5" height="0.9" fill="#2a2a2a" fill-opacity="0.7"/>
<rect x="81.6" y="407.9" width="1.8" height="1.1" fill="#2a2a2a" fill-opacity="0.7"/>
<rect x="69.1" y="409.2" width="1.8" height="1.1" fill="#2a2a2a" fill-opacity="0.7"/>
<rect x="78.8" y="412.0" width="1.2" height="0.9" fill="#2a2a2a" fill-opacity="1.0"/>
<rect x="139.0" y="382.2" width="1.8" height="1.1" fill="#2a2a2a" fill-opacity="0.7"/>
<rect x="134.6" y="390.7" width="1.8" height="0.9" fill="#2a2a2a" fill-opacity="0.55"/>
<rect x="123.9" y="394.2" width="1.5" height="0.9" fill="#2a2a2a" fill-opacity="0.85"/>
<rect x="123.9" y="396.3" width="1.8" height="1.1" fill="#2a2a2a" fill-opacity="1.0"/>
<rect x="120.5" y="395.9" width="1.5" height="1.1" fill="#2a2a2a" fill-opacity="1.0"/>
<rect x="117.6" y="395.2" width="1.8" height="0.9" fill="#2a2a2a" fill-opacity="0.55"/>
<rect x="122.9" y="399.3" width="1.2" height="0.9" fill="#2a2a2a" fill-opacity="0.55"/>
<rect x="115.4" y="401.4" width="1.2" height="1.1" fill="#2a2a2a" fill-opacity="0.85"/>
<rect x="105.9" y="419.3" width="1.8" height="0.9" fill="#2a2a2a" fill-opacity="1.0"/>
<line x1="48.60" y1="359.00" x2="48.60" y2="460.80" stroke="#111" stroke-width="1.6"/>
<rect x="48.60" y="359.00" width="55.30" height="56.00" fill="none" stroke="#000" stroke-width="2.5"/>
<line x1="48.60" y1="357.80" x2="48.60" y2="416.20" stroke="#000" stroke-width="3.4"/>
<text x="30.38" y="368.30" font-size="8.0" textLength="9.69" lengthAdjust="spacingAndGlyphs" font-weight="bold" fill="#333" stroke="#333" stroke-width="0.3">10</text>
<text x="39.90" y="362.90" font-size="5.3" font-weight="bold" fill="#333" stroke="#333" stroke-width="0.3">7</text>
<line x1="46.40" y1="363.30" x2="48.60" y2="363.30" stroke="#222" stroke-width="0.9"/>
<text x="30.38" y="384.60" font-size="8.0" textLength="9.69" lengthAdjust="spacingAndGlyphs" font-weight="bold" fill="#333" stroke="#333" stroke-width="0.3">10</text>
<text x="39.90" y="379.20" font-size="5.3" font-weight="bold" fill="#333" stroke="#333" stroke-width="0.3">6</text>
<line x1="46.40" y1="379.60" x2="48.60" y2="379.60" stroke="#222" stroke-width="0.9"/>
<text x="30.38" y="400.80" font-size="8.0" textLength="9.69" lengthAdjust="spacingAndGlyphs" font-weight="bold" fill="#333" stroke="#333" stroke-width="0.3">10</text>
<text x="39.90" y="395.40" font-size="5.3" font-weight="bold" fill="#333" stroke="#333" stroke-width="0.3">5</text>
<line x1="46.40" y1="395.80" x2="48.60" y2="395.80" stroke="#222" stroke-width="0.9"/>
<text x="30.38" y="417.00" font-size="8.0" textLength="9.69" lengthAdjust="spacingAndGlyphs" font-weight="bold" fill="#333" stroke="#333" stroke-width="0.3">10</text>
<text x="39.90" y="411.60" font-size="5.3" font-weight="bold" fill="#333" stroke="#333" stroke-width="0.3">4</text>
<line x1="46.40" y1="412.00" x2="48.60" y2="412.00" stroke="#222" stroke-width="0.9"/>
<text x="30.38" y="433.20" font-size="8.0" textLength="9.69" lengthAdjust="spacingAndGlyphs" font-weight="bold" fill="#333" stroke="#333" stroke-width="0.3">10</text>
<text x="39.90" y="427.80" font-size="5.3" font-weight="bold" fill="#333" stroke="#333" stroke-width="0.3">3</text>
<line x1="46.40" y1="428.20" x2="48.60" y2="428.20" stroke="#222" stroke-width="0.9"/>
<text x="30.38" y="449.60" font-size="8.0" textLength="9.69" lengthAdjust="spacingAndGlyphs" font-weight="bold" fill="#333" stroke="#333" stroke-width="0.3">10</text>
<text x="39.90" y="444.20" font-size="5.3" font-weight="bold" fill="#333" stroke="#333" stroke-width="0.3">2</text>
<line x1="46.40" y1="444.60" x2="48.60" y2="444.60" stroke="#222" stroke-width="0.9"/>
<text x="30.38" y="466.00" font-size="8.0" textLength="9.69" lengthAdjust="spacingAndGlyphs" font-weight="bold" fill="#333" stroke="#333" stroke-width="0.3">10</text>
<text x="39.90" y="460.60" font-size="5.3" font-weight="bold" fill="#333" stroke="#333" stroke-width="0.3">1</text>
<line x1="46.40" y1="461.00" x2="48.60" y2="461.00" stroke="#222" stroke-width="0.9"/>
<line x1="48.60" y1="460.80" x2="48.60" y2="464.20" stroke="#222" stroke-width="0.9"/>
<line x1="54.46" y1="460.80" x2="54.46" y2="463.00" stroke="#222" stroke-width="0.9"/>
<line x1="57.89" y1="460.80" x2="57.89" y2="463.00" stroke="#222" stroke-width="0.9"/>
<line x1="60.32" y1="460.80" x2="60.32" y2="463.00" stroke="#222" stroke-width="0.9"/>
<line x1="62.21" y1="460.80" x2="62.21" y2="463.00" stroke="#222" stroke-width="0.9"/>
<line x1="63.75" y1="460.80" x2="63.75" y2="463.00" stroke="#222" stroke-width="0.9"/>
<line x1="65.05" y1="460.80" x2="65.05" y2="463.00" stroke="#222" stroke-width="0.9"/>
<line x1="66.18" y1="460.80" x2="66.18" y2="463.00" stroke="#222" stroke-width="0.9"/>
<line x1="67.18" y1="460.80" x2="67.18" y2="463.00" stroke="#222" stroke-width="0.9"/>
<line x1="68.07" y1="460.80" x2="68.07" y2="464.20" stroke="#222" stroke-width="0.9"/>
<line x1="73.93" y1="460.80" x2="73.93" y2="463.00" stroke="#222" stroke-width="0.9"/>
<line x1="77.36" y1="460.80" x2="77.36" y2="463.00" stroke="#222" stroke-width="0.9"/>
<line x1="79.79" y1="460.80" x2="79.79" y2="463.00" stroke="#222" stroke-width="0.9"/>
<line x1="81.68" y1="460.80" x2="81.68" y2="463.00" stroke="#222" stroke-width="0.9"/>
<line x1="83.22" y1="460.80" x2="83.22" y2="463.00" stroke="#222" stroke-width="0.9"/>
<line x1="84.52" y1="460.80" x2="84.52" y2="463.00" stroke="#222" stroke-width="0.9"/>
<line x1="85.65" y1="460.80" x2="85.65" y2="463.00" stroke="#222" stroke-width="0.9"/>
<line x1="86.64" y1="460.80" x2="86.64" y2="463.00" stroke="#222" stroke-width="0.9"/>
<line x1="87.54" y1="460.80" x2="87.54" y2="464.20" stroke="#222" stroke-width="0.9"/>
<line x1="93.40" y1="460.80" x2="93.40" y2="463.00" stroke="#222" stroke-width="0.9"/>
<line x1="96.82" y1="460.80" x2="96.82" y2="463.00" stroke="#222" stroke-width="0.9"/>
<line x1="99.26" y1="460.80" x2="99.26" y2="463.00" stroke="#222" stroke-width="0.9"/>
<line x1="101.14" y1="460.80" x2="101.14" y2="463.00" stroke="#222" stroke-width="0.9"/>
<line x1="102.68" y1="460.80" x2="102.68" y2="463.00" stroke="#222" stroke-width="0.9"/>
<line x1="103.99" y1="460.80" x2="103.99" y2="463.00" stroke="#222" stroke-width="0.9"/>
<line x1="105.12" y1="460.80" x2="105.12" y2="463.00" stroke="#222" stroke-width="0.9"/>
<line x1="106.11" y1="460.80" x2="106.11" y2="463.00" stroke="#222" stroke-width="0.9"/>
<line x1="107.00" y1="460.80" x2="107.00" y2="464.20" stroke="#222" stroke-width="0.9"/>
<line x1="112.86" y1="460.80" x2="112.86" y2="463.00" stroke="#222" stroke-width="0.9"/>
<line x1="116.29" y1="460.80" x2="116.29" y2="463.00" stroke="#222" stroke-width="0.9"/>
<line x1="118.72" y1="460.80" x2="118.72" y2="463.00" stroke="#222" stroke-width="0.9"/>
<line x1="120.61" y1="460.80" x2="120.61" y2="463.00" stroke="#222" stroke-width="0.9"/>
<line x1="122.15" y1="460.80" x2="122.15" y2="463.00" stroke="#222" stroke-width="0.9"/>
<line x1="123.46" y1="460.80" x2="123.46" y2="463.00" stroke="#222" stroke-width="0.9"/>
<line x1="124.58" y1="460.80" x2="124.58" y2="463.00" stroke="#222" stroke-width="0.9"/>
<line x1="125.58" y1="460.80" x2="125.58" y2="463.00" stroke="#222" stroke-width="0.9"/>
<line x1="126.47" y1="460.80" x2="126.47" y2="464.20" stroke="#222" stroke-width="0.9"/>
<line x1="132.33" y1="460.80" x2="132.33" y2="463.00" stroke="#222" stroke-width="0.9"/>
<line x1="135.76" y1="460.80" x2="135.76" y2="463.00" stroke="#222" stroke-width="0.9"/>
<line x1="138.19" y1="460.80" x2="138.19" y2="463.00" stroke="#222" stroke-width="0.9"/>
<line x1="140.08" y1="460.80" x2="140.08" y2="463.00" stroke="#222" stroke-width="0.9"/>
<line x1="141.62" y1="460.80" x2="141.62" y2="463.00" stroke="#222" stroke-width="0.9"/>
<line x1="142.92" y1="460.80" x2="142.92" y2="463.00" stroke="#222" stroke-width="0.9"/>
<line x1="144.05" y1="460.80" x2="144.05" y2="463.00" stroke="#222" stroke-width="0.9"/>
<line x1="145.05" y1="460.80" x2="145.05" y2="463.00" stroke="#222" stroke-width="0.9"/>
<line x1="145.94" y1="460.80" x2="145.94" y2="464.20" stroke="#222" stroke-width="0.9"/>
<line x1="151.80" y1="460.80" x2="151.80" y2="463.00" stroke="#222" stroke-width="0.9"/>
<line x1="155.23" y1="460.80" x2="155.23" y2="463.00" stroke="#222" stroke-width="0.9"/>
<line x1="157.66" y1="460.80" x2="157.66" y2="463.00" stroke="#222" stroke-width="0.9"/>
<line x1="159.55" y1="460.80" x2="159.55" y2="463.00" stroke="#222" stroke-width="0.9"/>
<line x1="161.09" y1="460.80" x2="161.09" y2="463.00" stroke="#222" stroke-width="0.9"/>
<line x1="162.39" y1="460.80" x2="162.39" y2="463.00" stroke="#222" stroke-width="0.9"/>
<line x1="163.52" y1="460.80" x2="163.52" y2="463.00" stroke="#222" stroke-width="0.9"/>
<line x1="164.52" y1="460.80" x2="164.52" y2="463.00" stroke="#222" stroke-width="0.9"/>
<line x1="165.41" y1="460.80" x2="165.41" y2="464.20" stroke="#222" stroke-width="0.9"/>
<text x="50.98" y="368.40" font-size="9.0" textLength="37.06" lengthAdjust="spacingAndGlyphs" fill="#3a3a3a" stroke="#3a3a3a" stroke-width="0.26249999999999996">48.61%</text>
<text x="51.17" y="454.20" font-size="9.0" textLength="36.88" lengthAdjust="spacingAndGlyphs" fill="#3a3a3a" stroke="#3a3a3a" stroke-width="0.26249999999999996">50.73%</text>
<text x="139.45" y="371.80" font-size="10.8" textLength="16.56" lengthAdjust="spacingAndGlyphs" fill="#111" stroke="#111" stroke-width="0.35">WT</text>
<rect x="48.60" y="473.00" width="120.70" height="105.60" fill="#fff" stroke="#333" stroke-width="1.1"/>
<line x1="103.90" y1="473.00" x2="103.90" y2="578.60" stroke="#555" stroke-width="1.2"/>
<line x1="48.60" y1="531.60" x2="169.30" y2="531.60" stroke="#666" stroke-width="1.3"/>
<rect x="79.9" y="542.6" width="1.5" height="1.1" fill="#2a2a2a" fill-opacity="0.7"/>
<rect x="70.5" y="538.6" width="1.8" height="1.1" fill="#2a2a2a" fill-opacity="1.0"/>
<rect x="75.3" y="545.9" width="1.5" height="1.1" fill="#2a2a2a" fill-opacity="1.0"/>
<rect x="79.0" y="548.8" width="1.2" height="0.9" fill="#2a2a2a" fill-opacity="0.85"/>
<rect x="90.4" y="540.1" width="1.2" height="0.9" fill="#2a2a2a" fill-opacity="0.85"/>
<rect x="82.7" y="536.7" width="1.2" height="1.1" fill="#2a2a2a" fill-opacity="1.0"/>
<rect x="83.1" y="544.4" width="1.8" height="1.1" fill="#2a2a2a" fill-opacity="1.0"/>
<rect x="87.6" y="538.5" width="1.8" height="1.1" fill="#2a2a2a" fill-opacity="0.85"/>
<rect x="76.2" y="541.3" width="1.8" height="0.9" fill="#2a2a2a" fill-opacity="1.0"/>
<rect x="80.2" y="542.4" width="1.8" height="1.1" fill="#2a2a2a" fill-opacity="0.85"/>
<rect x="76.2" y="539.2" width="1.2" height="1.1" fill="#2a2a2a" fill-opacity="0.7"/>
<rect x="75.6" y="536.5" width="1.8" height="1.1" fill="#2a2a2a" fill-opacity="0.85"/>
<rect x="82.5" y="550.1" width="1.8" height="1.1" fill="#2a2a2a" fill-opacity="0.55"/>
<rect x="76.1" y="545.6" width="1.5" height="0.9" fill="#2a2a2a" fill-opacity="0.85"/>
<rect x="84.3" y="541.9" width="1.5" height="0.9" fill="#2a2a2a" fill-opacity="0.7"/>
<rect x="87.4" y="536.7" width="1.5" height="0.9" fill="#2a2a2a" fill-opacity="0.7"/>
<rect x="86.3" y="543.4" width="1.5" height="1.1" fill="#2a2a2a" fill-opacity="1.0"/>
<rect x="86.6" y="556.4" width="1.5" height="0.9" fill="#2a2a2a" fill-opacity="0.7"/>
<rect x="71.2" y="541.8" width="1.2" height="0.9" fill="#2a2a2a" fill-opacity="0.85"/>
<rect x="84.3" y="533.5" width="1.8" height="0.9" fill="#2a2a2a" fill-opacity="0.55"/>
<rect x="92.2" y="544.6" width="1.8" height="1.1" fill="#2a2a2a" fill-opacity="0.7"/>
<rect x="77.2" y="559.6" width="1.8" height="1.1" fill="#2a2a2a" fill-opacity="0.85"/>
<rect x="64.1" y="546.3" width="1.5" height="0.9" fill="#2a2a2a" fill-opacity="1.0"/>
<rect x="80.1" y="536.1" width="1.5" height="1.1" fill="#2a2a2a" fill-opacity="0.55"/>
<rect x="86.7" y="541.8" width="1.2" height="0.9" fill="#2a2a2a" fill-opacity="0.7"/>
<rect x="83.7" y="543.1" width="1.2" height="1.1" fill="#2a2a2a" fill-opacity="0.55"/>
<rect x="70.9" y="551.4" width="1.2" height="0.9" fill="#2a2a2a" fill-opacity="0.7"/>
<rect x="76.8" y="549.9" width="1.5" height="1.1" fill="#2a2a2a" fill-opacity="0.85"/>
<rect x="87.5" y="541.4" width="1.2" height="1.1" fill="#2a2a2a" fill-opacity="0.85"/>
<rect x="82.4" y="540.7" width="1.2" height="0.9" fill="#2a2a2a" fill-opacity="0.85"/>
<rect x="63.9" y="538.5" width="1.2" height="0.9" fill="#2a2a2a" fill-opacity="0.85"/>
<rect x="67.2" y="549.5" width="1.8" height="1.1" fill="#2a2a2a" fill-opacity="0.85"/>
<rect x="85.4" y="540.7" width="1.5" height="0.9" fill="#2a2a2a" fill-opacity="0.85"/>
<rect x="90.2" y="538.5" width="1.5" height="0.9" fill="#2a2a2a" fill-opacity="0.85"/>
<rect x="79.0" y="535.2" width="1.2" height="1.1" fill="#2a2a2a" fill-opacity="0.85"/>
<rect x="82.7" y="540.1" width="1.8" height="0.9" fill="#2a2a2a" fill-opacity="1.0"/>
<rect x="75.0" y="538.3" width="1.2" height="0.9" fill="#2a2a2a" fill-opacity="0.55"/>
<rect x="74.0" y="546.0" width="1.8" height="0.9" fill="#2a2a2a" fill-opacity="0.85"/>
<rect x="72.1" y="549.6" width="1.5" height="0.9" fill="#2a2a2a" fill-opacity="1.0"/>
<rect x="76.3" y="546.1" width="1.5" height="0.9" fill="#2a2a2a" fill-opacity="1.0"/>
<rect x="87.9" y="537.0" width="1.5" height="1.1" fill="#2a2a2a" fill-opacity="0.85"/>
<rect x="88.1" y="545.0" width="1.8" height="0.9" fill="#2a2a2a" fill-opacity="0.85"/>
<rect x="80.7" y="535.5" width="1.8" height="1.1" fill="#2a2a2a" fill-opacity="0.7"/>
<rect x="78.5" y="536.5" width="1.2" height="0.9" fill="#2a2a2a" fill-opacity="0.55"/>
<rect x="85.2" y="543.7" width="1.5" height="0.9" fill="#2a2a2a" fill-opacity="0.55"/>
<rect x="75.1" y="547.9" width="1.8" height="0.9" fill="#2a2a2a" fill-opacity="0.7"/>
<rect x="92.2" y="541.6" width="1.5" height="1.1" fill="#2a2a2a" fill-opacity="0.85"/>
<rect x="74.1" y="545.0" width="1.2" height="0.9" fill="#2a2a2a" fill-opacity="0.55"/>
<rect x="58.2" y="536.4" width="1.2" height="0.9" fill="#2a2a2a" fill-opacity="1.0"/>
<rect x="86.5" y="556.8" width="1.8" height="0.9" fill="#2a2a2a" fill-opacity="0.55"/>
<rect x="74.1" y="553.1" width="1.5" height="0.9" fill="#2a2a2a" fill-opacity="0.55"/>
<rect x="59.0" y="549.7" width="1.8" height="1.1" fill="#2a2a2a" fill-opacity="1.0"/>
<rect x="82.8" y="549.0" width="1.2" height="0.9" fill="#2a2a2a" fill-opacity="1.0"/>
<rect x="79.4" y="536.2" width="1.2" height="1.1" fill="#2a2a2a" fill-opacity="0.7"/>
<rect x="78.9" y="552.9" width="1.2" height="1.1" fill="#2a2a2a" fill-opacity="0.55"/>
<rect x="88.9" y="538.7" width="1.8" height="0.9" fill="#2a2a2a" fill-opacity="0.7"/>
<rect x="84.6" y="547.9" width="1.5" height="1.1" fill="#2a2a2a" fill-opacity="0.85"/>
<rect x="86.4" y="540.7" width="1.2" height="1.1" fill="#2a2a2a" fill-opacity="0.7"/>
<rect x="74.9" y="535.2" width="1.8" height="0.9" fill="#2a2a2a" fill-opacity="1.0"/>
<rect x="76.9" y="536.7" width="1.2" height="1.1" fill="#2a2a2a" fill-opacity="0.85"/>
<rect x="68.7" y="540.7" width="1.2" height="0.9" fill="#2a2a2a" fill-opacity="0.7"/>
<rect x="94.6" y="551.0" width="1.2" height="0.9" fill="#2a2a2a" fill-opacity="0.55"/>
<rect x="77.1" y="532.8" width="1.5" height="1.1" fill="#2a2a2a" fill-opacity="0.55"/>
<rect x="76.0" y="533.8" width="1.5" height="0.9" fill="#2a2a2a" fill-opacity="0.7"/>
<rect x="75.9" y="544.8" width="1.2" height="0.9" fill="#2a2a2a" fill-opacity="0.55"/>
<rect x="71.0" y="534.8" width="1.5" height="0.9" fill="#2a2a2a" fill-opacity="0.7"/>
<rect x="78.6" y="540.8" width="1.5" height="0.9" fill="#2a2a2a" fill-opacity="1.0"/>
<rect x="73.8" y="534.8" width="1.5" height="1.1" fill="#2a2a2a" fill-opacity="0.7"/>
<rect x="70.4" y="535.0" width="1.5" height="1.1" fill="#2a2a2a" fill-opacity="0.55"/>
<rect x="86.0" y="539.1" width="1.2" height="1.1" fill="#2a2a2a" fill-opacity="0.55"/>
<rect x="80.4" y="534.1" width="1.8" height="1.1" fill="#2a2a2a" fill-opacity="0.85"/>
<rect x="65.4" y="550.3" width="1.8" height="1.1" fill="#2a2a2a" fill-opacity="1.0"/>
<rect x="74.1" y="541.3" width="1.8" height="0.9" fill="#2a2a2a" fill-opacity="1.0"/>
<rect x="97.5" y="535.3" width="1.2" height="0.9" fill="#2a2a2a" fill-opacity="0.7"/>
<rect x="84.5" y="540.9" width="1.2" height="1.1" fill="#2a2a2a" fill-opacity="1.0"/>
<rect x="80.9" y="555.5" width="1.5" height="0.9" fill="#2a2a2a" fill-opacity="0.85"/>
<rect x="69.7" y="543.8" width="1.2" height="0.9" fill="#2a2a2a" fill-opacity="0.85"/>
<rect x="85.2" y="537.0" width="1.8" height="1.1" fill="#2a2a2a" fill-opacity="0.55"/>
<rect x="78.5" y="552.3" width="1.2" height="1.1" fill="#2a2a2a" fill-opacity="0.7"/>
<rect x="91.8" y="545.5" width="1.2" height="1.1" fill="#2a2a2a" fill-opacity="0.85"/>
<rect x="81.9" y="555.3" width="1.8" height="0.9" fill="#2a2a2a" fill-opacity="0.55"/>
<rect x="61.3" y="535.7" width="1.2" height="0.9" fill="#2a2a2a" fill-opacity="0.55"/>
<rect x="82.6" y="536.6" width="1.8" height="0.9" fill="#2a2a2a" fill-opacity="1.0"/>
<rect x="78.1" y="543.7" width="1.2" height="0.9" fill="#2a2a2a" fill-opacity="1.0"/>
<rect x="89.5" y="542.7" width="1.8" height="0.9" fill="#2a2a2a" fill-opacity="0.85"/>
<rect x="85.5" y="544.4" width="1.8" height="1.1" fill="#2a2a2a" fill-opacity="0.55"/>
<rect x="66.9" y="551.0" width="1.2" height="1.1" fill="#2a2a2a" fill-opacity="0.7"/>
<rect x="84.6" y="551.9" width="1.5" height="0.9" fill="#2a2a2a" fill-opacity="0.85"/>
<rect x="85.6" y="552.2" width="1.2" height="1.1" fill="#2a2a2a" fill-opacity="0.85"/>
<rect x="79.5" y="541.6" width="1.8" height="0.9" fill="#2a2a2a" fill-opacity="1.0"/>
<rect x="76.6" y="546.9" width="1.2" height="0.9" fill="#2a2a2a" fill-opacity="1.0"/>
<rect x="75.7" y="536.3" width="1.2" height="1.1" fill="#2a2a2a" fill-opacity="0.55"/>
<rect x="69.3" y="533.6" width="1.5" height="0.9" fill="#2a2a2a" fill-opacity="0.7"/>
<rect x="83.1" y="544.8" width="1.2" height="0.9" fill="#2a2a2a" fill-opacity="0.7"/>
<rect x="77.3" y="532.6" width="1.5" height="0.9" fill="#2a2a2a" fill-opacity="0.85"/>
<rect x="84.2" y="543.9" width="1.5" height="0.9" fill="#2a2a2a" fill-opacity="0.7"/>
<rect x="93.2" y="537.0" width="1.2" height="1.1" fill="#2a2a2a" fill-opacity="0.55"/>
<rect x="77.1" y="545.1" width="1.2" height="0.9" fill="#2a2a2a" fill-opacity="0.7"/>
<rect x="95.6" y="540.6" width="1.8" height="0.9" fill="#2a2a2a" fill-opacity="1.0"/>
<rect x="80.2" y="533.5" width="1.5" height="1.1" fill="#2a2a2a" fill-opacity="0.55"/>
<rect x="77.4" y="548.6" width="1.5" height="0.9" fill="#2a2a2a" fill-opacity="0.55"/>
<rect x="89.1" y="550.0" width="1.2" height="1.1" fill="#2a2a2a" fill-opacity="0.55"/>
<rect x="65.3" y="547.8" width="1.2" height="1.1" fill="#2a2a2a" fill-opacity="0.85"/>
<rect x="72.2" y="545.8" width="1.2" height="0.9" fill="#2a2a2a" fill-opacity="0.85"/>
<rect x="58.4" y="540.2" width="1.8" height="1.1" fill="#2a2a2a" fill-opacity="0.85"/>
<rect x="72.6" y="551.3" width="1.2" height="0.9" fill="#2a2a2a" fill-opacity="0.7"/>
<rect x="82.2" y="551.5" width="1.2" height="0.9" fill="#2a2a2a" fill-opacity="0.85"/>
<rect x="76.8" y="556.9" width="1.8" height="0.9" fill="#2a2a2a" fill-opacity="0.7"/>
<rect x="76.8" y="556.3" width="1.5" height="0.9" fill="#2a2a2a" fill-opacity="0.85"/>
<rect x="76.3" y="533.1" width="1.5" height="1.1" fill="#2a2a2a" fill-opacity="0.85"/>
<rect x="89.6" y="537.8" width="1.8" height="1.1" fill="#2a2a2a" fill-opacity="1.0"/>
<rect x="77.7" y="541.9" width="1.2" height="0.9" fill="#2a2a2a" fill-opacity="0.7"/>
<rect x="74.3" y="544.2" width="1.5" height="0.9" fill="#2a2a2a" fill-opacity="1.0"/>
<rect x="59.0" y="548.2" width="1.8" height="1.1" fill="#2a2a2a" fill-opacity="0.55"/>
<rect x="77.1" y="552.9" width="1.5" height="0.9" fill="#2a2a2a" fill-opacity="0.55"/>
<rect x="77.7" y="535.7" width="1.2" height="1.1" fill="#2a2a2a" fill-opacity="0.7"/>
<rect x="76.7" y="543.2" width="1.2" height="0.9" fill="#2a2a2a" fill-opacity="0.7"/>
<rect x="86.7" y="537.3" width="1.5" height="1.1" fill="#2a2a2a" fill-opacity="0.55"/>
<rect x="73.4" y="544.5" width="1.5" height="0.9" fill="#2a2a2a" fill-opacity="0.7"/>
<rect x="70.9" y="535.6" width="1.5" height="0.9" fill="#2a2a2a" fill-opacity="0.7"/>
<rect x="97.4" y="551.0" width="1.5" height="0.9" fill="#2a2a2a" fill-opacity="0.85"/>
<rect x="88.7" y="545.0" width="1.5" height="1.1" fill="#2a2a2a" fill-opacity="1.0"/>
<rect x="70.3" y="550.1" width="1.5" height="1.1" fill="#2a2a2a" fill-opacity="0.7"/>
<rect x="76.8" y="534.6" width="1.5" height="0.9" fill="#2a2a2a" fill-opacity="1.0"/>
<rect x="94.3" y="542.6" width="1.5" height="1.1" fill="#2a2a2a" fill-opacity="0.85"/>
<rect x="72.2" y="542.5" width="1.5" height="1.1" fill="#2a2a2a" fill-opacity="0.7"/>
<rect x="72.9" y="542.5" width="1.8" height="0.9" fill="#2a2a2a" fill-opacity="1.0"/>
<rect x="90.5" y="540.6" width="1.8" height="1.1" fill="#2a2a2a" fill-opacity="0.7"/>
<rect x="90.7" y="544.6" width="1.8" height="1.1" fill="#2a2a2a" fill-opacity="0.7"/>
<rect x="69.7" y="547.8" width="1.8" height="1.1" fill="#2a2a2a" fill-opacity="0.7"/>
<rect x="83.3" y="548.4" width="1.8" height="1.1" fill="#2a2a2a" fill-opacity="0.85"/>
<rect x="86.9" y="547.3" width="1.8" height="0.9" fill="#2a2a2a" fill-opacity="0.55"/>
<rect x="80.8" y="537.7" width="1.5" height="1.1" fill="#2a2a2a" fill-opacity="0.55"/>
<rect x="87.9" y="551.0" width="1.5" height="1.1" fill="#2a2a2a" fill-opacity="0.55"/>
<rect x="80.6" y="555.6" width="1.8" height="1.1" fill="#2a2a2a" fill-opacity="1.0"/>
<rect x="88.8" y="547.1" width="1.5" height="1.1" fill="#2a2a2a" fill-opacity="1.0"/>
<rect x="99.7" y="542.6" width="1.2" height="0.9" fill="#2a2a2a" fill-opacity="0.85"/>
<rect x="100.0" y="535.2" width="1.5" height="1.1" fill="#2a2a2a" fill-opacity="0.55"/>
<rect x="89.7" y="542.1" width="1.8" height="0.9" fill="#2a2a2a" fill-opacity="0.55"/>
<rect x="69.6" y="538.8" width="1.5" height="1.1" fill="#2a2a2a" fill-opacity="0.55"/>
<rect x="93.8" y="550.1" width="1.2" height="1.1" fill="#2a2a2a" fill-opacity="0.55"/>
<rect x="77.4" y="550.0" width="1.2" height="1.1" fill="#2a2a2a" fill-opacity="0.55"/>
<rect x="89.7" y="548.3" width="1.5" height="0.9" fill="#2a2a2a" fill-opacity="0.55"/>
<rect x="83.8" y="543.5" width="1.5" height="1.1" fill="#2a2a2a" fill-opacity="0.55"/>
<rect x="73.1" y="540.5" width="1.2" height="1.1" fill="#2a2a2a" fill-opacity="1.0"/>
<rect x="82.2" y="535.1" width="1.2" height="1.1" fill="#2a2a2a" fill-opacity="0.85"/>
<rect x="78.3" y="542.4" width="1.8" height="1.1" fill="#2a2a2a" fill-opacity="0.7"/>
<rect x="83.1" y="549.6" width="1.8" height="0.9" fill="#2a2a2a" fill-opacity="1.0"/>
<rect x="71.2" y="537.8" width="1.5" height="0.9" fill="#2a2a2a" fill-opacity="0.7"/>
<rect x="83.6" y="538.0" width="1.8" height="1.1" fill="#2a2a2a" fill-opacity="0.85"/>
<rect x="88.4" y="524.1" width="1.2" height="0.9" fill="#2a2a2a" fill-opacity="1.0"/>
<rect x="97.0" y="525.1" width="1.5" height="0.9" fill="#2a2a2a" fill-opacity="0.55"/>
<rect x="73.5" y="529.1" width="1.2" height="1.1" fill="#2a2a2a" fill-opacity="1.0"/>
<rect x="101.9" y="518.2" width="1.8" height="1.1" fill="#2a2a2a" fill-opacity="0.55"/>
<rect x="83.7" y="526.3" width="1.8" height="0.9" fill="#2a2a2a" fill-opacity="0.55"/>
<rect x="83.5" y="519.7" width="1.5" height="1.1" fill="#2a2a2a" fill-opacity="1.0"/>
<rect x="91.8" y="530.1" width="1.5" height="1.1" fill="#2a2a2a" fill-opacity="0.7"/>
<rect x="89.8" y="526.3" width="1.8" height="1.1" fill="#2a2a2a" fill-opacity="0.7"/>
<rect x="72.9" y="519.9" width="1.8" height="0.9" fill="#2a2a2a" fill-opacity="1.0"/>
<rect x="94.9" y="527.2" width="1.5" height="1.1" fill="#2a2a2a" fill-opacity="0.55"/>
<rect x="91.9" y="527.5" width="1.8" height="1.1" fill="#2a2a2a" fill-opacity="1.0"/>
<rect x="79.5" y="530.1" width="1.8" height="1.1" fill="#2a2a2a" fill-opacity="0.7"/>
<rect x="73.2" y="519.1" width="1.5" height="1.1" fill="#2a2a2a" fill-opacity="0.55"/>
<rect x="97.2" y="524.3" width="1.2" height="0.9" fill="#2a2a2a" fill-opacity="1.0"/>
<rect x="63.4" y="525.9" width="1.2" height="0.9" fill="#2a2a2a" fill-opacity="0.55"/>
<rect x="78.4" y="528.1" width="1.8" height="0.9" fill="#2a2a2a" fill-opacity="1.0"/>
<rect x="84.5" y="522.9" width="1.5" height="1.1" fill="#2a2a2a" fill-opacity="0.85"/>
<rect x="77.9" y="529.1" width="1.8" height="0.9" fill="#2a2a2a" fill-opacity="0.55"/>
<rect x="75.7" y="526.5" width="1.8" height="1.1" fill="#2a2a2a" fill-opacity="0.55"/>
<rect x="75.1" y="527.9" width="1.5" height="1.1" fill="#2a2a2a" fill-opacity="0.55"/>
<rect x="96.3" y="527.9" width="1.2" height="1.1" fill="#2a2a2a" fill-opacity="0.85"/>
<rect x="75.3" y="524.8" width="1.5" height="0.9" fill="#2a2a2a" fill-opacity="0.85"/>
<rect x="85.8" y="527.8" width="1.2" height="1.1" fill="#2a2a2a" fill-opacity="0.7"/>
<rect x="79.0" y="528.5" width="1.8" height="1.1" fill="#2a2a2a" fill-opacity="0.55"/>
<rect x="77.8" y="526.3" width="1.2" height="0.9" fill="#2a2a2a" fill-opacity="0.55"/>
<rect x="85.0" y="521.4" width="1.5" height="0.9" fill="#2a2a2a" fill-opacity="0.85"/>
<rect x="95.2" y="526.2" width="1.2" height="1.1" fill="#2a2a2a" fill-opacity="0.7"/>
<rect x="86.2" y="525.9" width="1.5" height="1.1" fill="#2a2a2a" fill-opacity="1.0"/>
<rect x="63.8" y="520.4" width="1.2" height="1.1" fill="#2a2a2a" fill-opacity="0.55"/>
<rect x="76.0" y="530.0" width="1.5" height="1.1" fill="#2a2a2a" fill-opacity="1.0"/>
<rect x="79.2" y="528.5" width="1.2" height="1.1" fill="#2a2a2a" fill-opacity="0.7"/>
<rect x="74.7" y="522.6" width="1.5" height="0.9" fill="#2a2a2a" fill-opacity="0.55"/>
<rect x="80.3" y="530.3" width="1.5" height="1.1" fill="#2a2a2a" fill-opacity="1.0"/>
<rect x="68.3" y="525.3" width="1.8" height="1.1" fill="#2a2a2a" fill-opacity="0.85"/>
<rect x="89.2" y="526.6" width="1.8" height="1.1" fill="#2a2a2a" fill-opacity="0.55"/>
<rect x="84.9" y="529.2" width="1.8" height="0.9" fill="#2a2a2a" fill-opacity="0.7"/>
<rect x="88.0" y="522.0" width="1.2" height="0.9" fill="#2a2a2a" fill-opacity="0.7"/>
<rect x="91.5" y="522.9" width="1.2" height="1.1" fill="#2a2a2a" fill-opacity="0.85"/>
<rect x="89.4" y="522.9" width="1.5" height="0.9" fill="#2a2a2a" fill-opacity="0.55"/>
<rect x="88.4" y="520.4" width="1.5" height="0.9" fill="#2a2a2a" fill-opacity="1.0"/>
<rect x="100.9" y="528.4" width="1.2" height="1.1" fill="#2a2a2a" fill-opacity="0.7"/>
<rect x="98.4" y="527.7" width="1.5" height="0.9" fill="#2a2a2a" fill-opacity="0.55"/>
<rect x="63.3" y="523.1" width="1.2" height="1.1" fill="#2a2a2a" fill-opacity="1.0"/>
<rect x="83.6" y="525.3" width="1.8" height="1.1" fill="#2a2a2a" fill-opacity="0.7"/>
<rect x="100.3" y="523.3" width="1.5" height="1.1" fill="#2a2a2a" fill-opacity="0.7"/>
<rect x="84.1" y="525.8" width="1.5" height="0.9" fill="#2a2a2a" fill-opacity="1.0"/>
<rect x="84.1" y="521.8" width="1.2" height="0.9" fill="#2a2a2a" fill-opacity="0.7"/>
<rect x="72.7" y="515.6" width="1.2" height="0.9" fill="#2a2a2a" fill-opacity="1.0"/>
<rect x="88.4" y="525.2" width="1.5" height="0.9" fill="#2a2a2a" fill-opacity="1.0"/>
<rect x="87.1" y="521.8" width="1.2" height="1.1" fill="#2a2a2a" fill-opacity="1.0"/>
<rect x="85.1" y="522.1" width="1.8" height="0.9" fill="#2a2a2a" fill-opacity="0.7"/>
<rect x="74.9" y="527.4" width="1.2" height="1.1" fill="#2a2a2a" fill-opacity="0.85"/>
<rect x="91.5" y="528.4" width="1.8" height="0.9" fill="#2a2a2a" fill-opacity="0.85"/>
<rect x="84.6" y="524.5" width="1.5" height="0.9" fill="#2a2a2a" fill-opacity="0.7"/>
<rect x="78.7" y="521.6" width="1.8" height="1.1" fill="#2a2a2a" fill-opacity="1.0"/>
<rect x="88.8" y="527.3" width="1.2" height="1.1" fill="#2a2a2a" fill-opacity="0.55"/>
<rect x="64.0" y="522.7" width="1.2" height="1.1" fill="#2a2a2a" fill-opacity="1.0"/>
<rect x="87.5" y="530.0" width="1.2" height="1.1" fill="#2a2a2a" fill-opacity="1.0"/>
<rect x="66.4" y="524.3" width="1.2" height="1.1" fill="#2a2a2a" fill-opacity="1.0"/>
<rect x="82.5" y="526.2" width="1.5" height="0.9" fill="#2a2a2a" fill-opacity="0.55"/>
<rect x="139.0" y="499.6" width="1.5" height="1.1" fill="#2a2a2a" fill-opacity="0.55"/>
<rect x="122.9" y="508.0" width="1.5" height="1.1" fill="#2a2a2a" fill-opacity="1.0"/>
<rect x="114.4" y="508.5" width="1.8" height="1.1" fill="#2a2a2a" fill-opacity="1.0"/>
<rect x="107.8" y="510.3" width="1.8" height="0.9" fill="#2a2a2a" fill-opacity="0.7"/>
<rect x="108.8" y="518.8" width="1.5" height="0.9" fill="#2a2a2a" fill-opacity="1.0"/>
<rect x="112.7" y="521.0" width="1.5" height="0.9" fill="#2a2a2a" fill-opacity="0.85"/>
<rect x="60.0" y="560.0" width="1.2" height="0.9" fill="#2a2a2a" fill-opacity="0.85"/>
<rect x="70.0" y="563.0" width="1.8" height="1.1" fill="#2a2a2a" fill-opacity="0.55"/>
<line x1="48.60" y1="473.00" x2="48.60" y2="578.60" stroke="#111" stroke-width="1.6"/>
<rect x="48.60" y="472.00" width="55.30" height="59.60" fill="none" stroke="#000" stroke-width="2.5"/>
<line x1="48.60" y1="470.80" x2="48.60" y2="532.80" stroke="#000" stroke-width="3.4"/>
<text x="30.38" y="482.80" font-size="8.0" textLength="9.69" lengthAdjust="spacingAndGlyphs" font-weight="bold" fill="#333" stroke="#333" stroke-width="0.3">10</text>
<text x="39.90" y="477.40" font-size="5.3" font-weight="bold" fill="#333" stroke="#333" stroke-width="0.3">7</text>
<line x1="46.40" y1="477.80" x2="48.60" y2="477.80" stroke="#222" stroke-width="0.9"/>
<text x="30.38" y="499.50" font-size="8.0" textLength="9.69" lengthAdjust="spacingAndGlyphs" font-weight="bold" fill="#333" stroke="#333" stroke-width="0.3">10</text>
<text x="39.90" y="494.10" font-size="5.3" font-weight="bold" fill="#333" stroke="#333" stroke-width="0.3">6</text>
<line x1="46.40" y1="494.50" x2="48.60" y2="494.50" stroke="#222" stroke-width="0.9"/>
<text x="30.38" y="516.40" font-size="8.0" textLength="9.69" lengthAdjust="spacingAndGlyphs" font-weight="bold" fill="#333" stroke="#333" stroke-width="0.3">10</text>
<text x="39.90" y="511.00" font-size="5.3" font-weight="bold" fill="#333" stroke="#333" stroke-width="0.3">5</text>
<line x1="46.40" y1="511.40" x2="48.60" y2="511.40" stroke="#222" stroke-width="0.9"/>
<text x="30.38" y="533.40" font-size="8.0" textLength="9.69" lengthAdjust="spacingAndGlyphs" font-weight="bold" fill="#333" stroke="#333" stroke-width="0.3">10</text>
<text x="39.90" y="528.00" font-size="5.3" font-weight="bold" fill="#333" stroke="#333" stroke-width="0.3">4</text>
<line x1="46.40" y1="528.40" x2="48.60" y2="528.40" stroke="#222" stroke-width="0.9"/>
<text x="30.38" y="550.30" font-size="8.0" textLength="9.69" lengthAdjust="spacingAndGlyphs" font-weight="bold" fill="#333" stroke="#333" stroke-width="0.3">10</text>
<text x="39.90" y="544.90" font-size="5.3" font-weight="bold" fill="#333" stroke="#333" stroke-width="0.3">3</text>
<line x1="46.40" y1="545.30" x2="48.60" y2="545.30" stroke="#222" stroke-width="0.9"/>
<text x="30.38" y="567.20" font-size="8.0" textLength="9.69" lengthAdjust="spacingAndGlyphs" font-weight="bold" fill="#333" stroke="#333" stroke-width="0.3">10</text>
<text x="39.90" y="561.80" font-size="5.3" font-weight="bold" fill="#333" stroke="#333" stroke-width="0.3">2</text>
<line x1="46.40" y1="562.20" x2="48.60" y2="562.20" stroke="#222" stroke-width="0.9"/>
<text x="30.38" y="584.20" font-size="8.0" textLength="9.69" lengthAdjust="spacingAndGlyphs" font-weight="bold" fill="#333" stroke="#333" stroke-width="0.3">10</text>
<text x="39.90" y="578.80" font-size="5.3" font-weight="bold" fill="#333" stroke="#333" stroke-width="0.3">1</text>
<line x1="46.40" y1="579.20" x2="48.60" y2="579.20" stroke="#222" stroke-width="0.9"/>
<line x1="48.60" y1="578.60" x2="48.60" y2="582.00" stroke="#222" stroke-width="0.9"/>
<line x1="54.46" y1="578.60" x2="54.46" y2="580.80" stroke="#222" stroke-width="0.9"/>
<line x1="57.89" y1="578.60" x2="57.89" y2="580.80" stroke="#222" stroke-width="0.9"/>
<line x1="60.32" y1="578.60" x2="60.32" y2="580.80" stroke="#222" stroke-width="0.9"/>
<line x1="62.21" y1="578.60" x2="62.21" y2="580.80" stroke="#222" stroke-width="0.9"/>
<line x1="63.75" y1="578.60" x2="63.75" y2="580.80" stroke="#222" stroke-width="0.9"/>
<line x1="65.05" y1="578.60" x2="65.05" y2="580.80" stroke="#222" stroke-width="0.9"/>
<line x1="66.18" y1="578.60" x2="66.18" y2="580.80" stroke="#222" stroke-width="0.9"/>
<line x1="67.18" y1="578.60" x2="67.18" y2="580.80" stroke="#222" stroke-width="0.9"/>
<line x1="68.07" y1="578.60" x2="68.07" y2="582.00" stroke="#222" stroke-width="0.9"/>
<line x1="73.93" y1="578.60" x2="73.93" y2="580.80" stroke="#222" stroke-width="0.9"/>
<line x1="77.36" y1="578.60" x2="77.36" y2="580.80" stroke="#222" stroke-width="0.9"/>
<line x1="79.79" y1="578.60" x2="79.79" y2="580.80" stroke="#222" stroke-width="0.9"/>
<line x1="81.68" y1="578.60" x2="81.68" y2="580.80" stroke="#222" stroke-width="0.9"/>
<line x1="83.22" y1="578.60" x2="83.22" y2="580.80" stroke="#222" stroke-width="0.9"/>
<line x1="84.52" y1="578.60" x2="84.52" y2="580.80" stroke="#222" stroke-width="0.9"/>
<line x1="85.65" y1="578.60" x2="85.65" y2="580.80" stroke="#222" stroke-width="0.9"/>
<line x1="86.64" y1="578.60" x2="86.64" y2="580.80" stroke="#222" stroke-width="0.9"/>
<line x1="87.54" y1="578.60" x2="87.54" y2="582.00" stroke="#222" stroke-width="0.9"/>
<line x1="93.40" y1="578.60" x2="93.40" y2="580.80" stroke="#222" stroke-width="0.9"/>
<line x1="96.82" y1="578.60" x2="96.82" y2="580.80" stroke="#222" stroke-width="0.9"/>
<line x1="99.26" y1="578.60" x2="99.26" y2="580.80" stroke="#222" stroke-width="0.9"/>
<line x1="101.14" y1="578.60" x2="101.14" y2="580.80" stroke="#222" stroke-width="0.9"/>
<line x1="102.68" y1="578.60" x2="102.68" y2="580.80" stroke="#222" stroke-width="0.9"/>
<line x1="103.99" y1="578.60" x2="103.99" y2="580.80" stroke="#222" stroke-width="0.9"/>
<line x1="105.12" y1="578.60" x2="105.12" y2="580.80" stroke="#222" stroke-width="0.9"/>
<line x1="106.11" y1="578.60" x2="106.11" y2="580.80" stroke="#222" stroke-width="0.9"/>
<line x1="107.00" y1="578.60" x2="107.00" y2="582.00" stroke="#222" stroke-width="0.9"/>
<line x1="112.86" y1="578.60" x2="112.86" y2="580.80" stroke="#222" stroke-width="0.9"/>
<line x1="116.29" y1="578.60" x2="116.29" y2="580.80" stroke="#222" stroke-width="0.9"/>
<line x1="118.72" y1="578.60" x2="118.72" y2="580.80" stroke="#222" stroke-width="0.9"/>
<line x1="120.61" y1="578.60" x2="120.61" y2="580.80" stroke="#222" stroke-width="0.9"/>
<line x1="122.15" y1="578.60" x2="122.15" y2="580.80" stroke="#222" stroke-width="0.9"/>
<line x1="123.46" y1="578.60" x2="123.46" y2="580.80" stroke="#222" stroke-width="0.9"/>
<line x1="124.58" y1="578.60" x2="124.58" y2="580.80" stroke="#222" stroke-width="0.9"/>
<line x1="125.58" y1="578.60" x2="125.58" y2="580.80" stroke="#222" stroke-width="0.9"/>
<line x1="126.47" y1="578.60" x2="126.47" y2="582.00" stroke="#222" stroke-width="0.9"/>
<line x1="132.33" y1="578.60" x2="132.33" y2="580.80" stroke="#222" stroke-width="0.9"/>
<line x1="135.76" y1="578.60" x2="135.76" y2="580.80" stroke="#222" stroke-width="0.9"/>
<line x1="138.19" y1="578.60" x2="138.19" y2="580.80" stroke="#222" stroke-width="0.9"/>
<line x1="140.08" y1="578.60" x2="140.08" y2="580.80" stroke="#222" stroke-width="0.9"/>
<line x1="141.62" y1="578.60" x2="141.62" y2="580.80" stroke="#222" stroke-width="0.9"/>
<line x1="142.92" y1="578.60" x2="142.92" y2="580.80" stroke="#222" stroke-width="0.9"/>
<line x1="144.05" y1="578.60" x2="144.05" y2="580.80" stroke="#222" stroke-width="0.9"/>
<line x1="145.05" y1="578.60" x2="145.05" y2="580.80" stroke="#222" stroke-width="0.9"/>
<line x1="145.94" y1="578.60" x2="145.94" y2="582.00" stroke="#222" stroke-width="0.9"/>
<line x1="151.80" y1="578.60" x2="151.80" y2="580.80" stroke="#222" stroke-width="0.9"/>
<line x1="155.23" y1="578.60" x2="155.23" y2="580.80" stroke="#222" stroke-width="0.9"/>
<line x1="157.66" y1="578.60" x2="157.66" y2="580.80" stroke="#222" stroke-width="0.9"/>
<line x1="159.55" y1="578.60" x2="159.55" y2="580.80" stroke="#222" stroke-width="0.9"/>
<line x1="161.09" y1="578.60" x2="161.09" y2="580.80" stroke="#222" stroke-width="0.9"/>
<line x1="162.39" y1="578.60" x2="162.39" y2="580.80" stroke="#222" stroke-width="0.9"/>
<line x1="163.52" y1="578.60" x2="163.52" y2="580.80" stroke="#222" stroke-width="0.9"/>
<line x1="164.52" y1="578.60" x2="164.52" y2="580.80" stroke="#222" stroke-width="0.9"/>
<line x1="165.41" y1="578.60" x2="165.41" y2="582.00" stroke="#222" stroke-width="0.9"/>
<text x="51.18" y="484.30" font-size="9.0" textLength="36.96" lengthAdjust="spacingAndGlyphs" fill="#3a3a3a" stroke="#3a3a3a" stroke-width="0.26249999999999996">46.62%</text>
<text x="51.47" y="570.80" font-size="9.0" textLength="36.67" lengthAdjust="spacingAndGlyphs" fill="#3a3a3a" stroke="#3a3a3a" stroke-width="0.26249999999999996">52.50%</text>
<text x="126.43" y="486.60" font-size="10.2" textLength="25.36" lengthAdjust="spacingAndGlyphs" fill="#111" stroke="#111" stroke-width="0.35">CCR2</text>
<text x="152.00" y="482.80" font-size="6.4" fill="#111" stroke="#111" stroke-width="0.03500000000000003">-/-</text>
<text x="192.64" y="355.90" font-size="17.5" font-weight="bold" fill="#000" stroke="#000" stroke-width="0.3">f</text>
<line x1="257.00" y1="347.60" x2="257.00" y2="436.40" stroke="#5a5a5a" stroke-width="1.3"/>
<line x1="253.40" y1="348.10" x2="257.00" y2="348.10" stroke="#5a5a5a" stroke-width="1.3"/>
<line x1="253.40" y1="377.50" x2="257.00" y2="377.50" stroke="#5a5a5a" stroke-width="1.3"/>
<line x1="253.40" y1="407.00" x2="257.00" y2="407.00" stroke="#5a5a5a" stroke-width="1.3"/>
<line x1="253.40" y1="436.40" x2="257.00" y2="436.40" stroke="#5a5a5a" stroke-width="1.3"/>
<text x="240.15" y="351.70" font-size="10.0" textLength="11.12" lengthAdjust="spacingAndGlyphs" stroke="#1c1c1c" stroke-width="0.35">60</text>
<text x="240.15" y="381.10" font-size="10.0" textLength="11.12" lengthAdjust="spacingAndGlyphs" stroke="#1c1c1c" stroke-width="0.35">40</text>
<text x="240.15" y="410.60" font-size="10.0" textLength="11.12" lengthAdjust="spacingAndGlyphs" stroke="#1c1c1c" stroke-width="0.35">20</text>
<text x="245.70" y="440.00" font-size="10.0" textLength="5.56" lengthAdjust="spacingAndGlyphs" stroke="#1c1c1c" stroke-width="0.35">0</text>
<line x1="253.50" y1="436.40" x2="408.80" y2="436.40" stroke="#222" stroke-width="1.2"/>
<line x1="333.20" y1="436.40" x2="333.20" y2="439.80" stroke="#5a5a5a" stroke-width="1.2"/>
<line x1="408.80" y1="436.40" x2="408.80" y2="439.80" stroke="#5a5a5a" stroke-width="1.2"/>
<line x1="285.00" y1="426.00" x2="285.00" y2="423.30" stroke="#000" stroke-width="2"/>
<line x1="282.50" y1="424.30" x2="287.50" y2="424.30" stroke="#000" stroke-width="2"/>
<rect x="273.40" y="424.80" width="23.30" height="11.20" fill="#000"/>
<line x1="307.40" y1="430.00" x2="307.40" y2="428.20" stroke="#000" stroke-width="2"/>
<line x1="304.90" y1="429.20" x2="309.90" y2="429.20" stroke="#000" stroke-width="2"/>
<rect x="297.10" y="430.00" width="19.80" height="6.60" fill="#fff" stroke="#000" stroke-width="2.2"/>
<line x1="360.00" y1="366.00" x2="360.00" y2="355.20" stroke="#000" stroke-width="2"/>
<line x1="357.50" y1="356.20" x2="362.50" y2="356.20" stroke="#000" stroke-width="2"/>
<rect x="349.50" y="364.30" width="23.20" height="71.70" fill="#000"/>
<line x1="383.20" y1="374.00" x2="383.20" y2="366.70" stroke="#000" stroke-width="2"/>
<line x1="380.70" y1="367.70" x2="385.70" y2="367.70" stroke="#000" stroke-width="2"/>
<rect x="373.10" y="373.40" width="19.50" height="63.20" fill="#fff" stroke="#000" stroke-width="2.2"/>
<text x="218.20" y="416.10" font-size="11.6" textLength="55.16" lengthAdjust="spacingAndGlyphs" transform="rotate(-90 218.20 416.10)" stroke="#1c1c1c" stroke-width="0.35">% of IL33+</text>
<text x="231.80" y="417.67" font-size="11.6" textLength="55.98" lengthAdjust="spacingAndGlyphs" transform="rotate(-90 231.80 417.67)" stroke="#1c1c1c" stroke-width="0.35">leukocytes</text>
<text x="285.48" y="453.30" font-size="10.0" textLength="19.98" lengthAdjust="spacingAndGlyphs" stroke="#1c1c1c" stroke-width="0.35">DCs</text>
<text x="337.60" y="453.30" font-size="10.0" textLength="67.88" lengthAdjust="spacingAndGlyphs" stroke="#1c1c1c" stroke-width="0.35">Macrophages</text>
<text x="192.10" y="485.60" font-size="17.5" font-weight="bold" fill="#000" stroke="#000" stroke-width="0.3">g</text>
<line x1="257.40" y1="480.30" x2="257.40" y2="577.50" stroke="#5a5a5a" stroke-width="1.3"/>
<line x1="253.80" y1="480.80" x2="257.40" y2="480.80" stroke="#5a5a5a" stroke-width="1.3"/>
<line x1="253.80" y1="513.00" x2="257.40" y2="513.00" stroke="#5a5a5a" stroke-width="1.3"/>
<line x1="253.80" y1="545.30" x2="257.40" y2="545.30" stroke="#5a5a5a" stroke-width="1.3"/>
<line x1="253.80" y1="577.50" x2="257.40" y2="577.50" stroke="#5a5a5a" stroke-width="1.3"/>
<text x="220.25" y="484.10" font-size="10.2" textLength="31.20" lengthAdjust="spacingAndGlyphs" stroke="#1c1c1c" stroke-width="0.35">30,000</text>
<text x="220.25" y="516.30" font-size="10.2" textLength="31.20" lengthAdjust="spacingAndGlyphs" stroke="#1c1c1c" stroke-width="0.35">20,000</text>
<text x="220.25" y="548.60" font-size="10.2" textLength="31.20" lengthAdjust="spacingAndGlyphs" stroke="#1c1c1c" stroke-width="0.35">10,000</text>
<text x="245.80" y="580.80" font-size="10.2" textLength="5.67" lengthAdjust="spacingAndGlyphs" stroke="#1c1c1c" stroke-width="0.35">0</text>
<line x1="253.80" y1="577.50" x2="405.10" y2="577.50" stroke="#222" stroke-width="1.2"/>
<line x1="330.70" y1="577.50" x2="330.70" y2="580.90" stroke="#5a5a5a" stroke-width="1.2"/>
<line x1="405.10" y1="577.50" x2="405.10" y2="580.90" stroke="#5a5a5a" stroke-width="1.2"/>
<line x1="283.20" y1="540.00" x2="283.20" y2="536.30" stroke="#000" stroke-width="2"/>
<line x1="280.70" y1="537.30" x2="285.70" y2="537.30" stroke="#000" stroke-width="2"/>
<rect x="272.20" y="538.50" width="21.90" height="38.60" fill="#000"/>
<line x1="304.40" y1="517.00" x2="304.40" y2="510.00" stroke="#000" stroke-width="2"/>
<line x1="301.90" y1="511.00" x2="306.90" y2="511.00" stroke="#000" stroke-width="2"/>
<rect x="294.60" y="516.70" width="19.90" height="61.00" fill="#fff" stroke="#000" stroke-width="2.2"/>
<line x1="356.40" y1="559.00" x2="356.40" y2="557.00" stroke="#000" stroke-width="2"/>
<line x1="353.90" y1="558.00" x2="358.90" y2="558.00" stroke="#000" stroke-width="2"/>
<rect x="345.40" y="558.00" width="21.90" height="19.10" fill="#000"/>
<line x1="378.00" y1="556.00" x2="378.00" y2="553.40" stroke="#000" stroke-width="2"/>
<line x1="375.50" y1="554.40" x2="380.50" y2="554.40" stroke="#000" stroke-width="2"/>
<rect x="367.80" y="556.20" width="19.90" height="21.50" fill="#fff" stroke="#000" stroke-width="2.2"/>
<path d="M299.60,500.10L299.60,506.50M296.83,501.70L302.37,504.90M302.37,501.70L296.83,504.90" stroke="#111" stroke-width="1.6" stroke-linecap="round" fill="none"/>
<path d="M307.80,500.10L307.80,506.50M305.03,501.70L310.57,504.90M310.57,501.70L305.03,504.90" stroke="#111" stroke-width="1.6" stroke-linecap="round" fill="none"/>
<text x="198.90" y="532.75" font-size="11.6" textLength="20.44" lengthAdjust="spacingAndGlyphs" transform="rotate(-90 198.90 532.75)" stroke="#1c1c1c" stroke-width="0.35">MFI</text>
<text x="212.00" y="553.62" font-size="11.4" textLength="61.41" lengthAdjust="spacingAndGlyphs" transform="rotate(-90 212.00 553.62)" stroke="#1c1c1c" stroke-width="0.35">IL-33+  cells</text>
<text x="263.59" y="591.00" font-size="10.0" textLength="61.36" lengthAdjust="spacingAndGlyphs" stroke="#1c1c1c" stroke-width="0.35">Macrophages</text>
<text x="359.27" y="591.00" font-size="10.0" textLength="17.64" lengthAdjust="spacingAndGlyphs" stroke="#1c1c1c" stroke-width="0.35">DCs</text>
<text x="428.67" y="355.90" font-size="17.5" font-weight="bold" fill="#000" stroke="#000" stroke-width="0.3">h</text>
<line x1="461.30" y1="376.50" x2="461.30" y2="551.30" stroke="#5a5a5a" stroke-width="1.3"/>
<line x1="457.70" y1="377.00" x2="461.30" y2="377.00" stroke="#5a5a5a" stroke-width="1.3"/>
<line x1="457.70" y1="411.80" x2="461.30" y2="411.80" stroke="#5a5a5a" stroke-width="1.3"/>
<line x1="457.70" y1="446.60" x2="461.30" y2="446.60" stroke="#5a5a5a" stroke-width="1.3"/>
<line x1="457.70" y1="481.50" x2="461.30" y2="481.50" stroke="#5a5a5a" stroke-width="1.3"/>
<line x1="457.70" y1="516.40" x2="461.30" y2="516.40" stroke="#5a5a5a" stroke-width="1.3"/>
<line x1="457.70" y1="551.30" x2="461.30" y2="551.30" stroke="#5a5a5a" stroke-width="1.3"/>
<text x="445.41" y="380.20" font-size="9.8" textLength="10.90" lengthAdjust="spacingAndGlyphs" stroke="#1c1c1c" stroke-width="0.3325">25</text>
<text x="445.36" y="415.00" font-size="9.8" textLength="10.90" lengthAdjust="spacingAndGlyphs" stroke="#1c1c1c" stroke-width="0.3325">20</text>
<text x="445.41" y="449.80" font-size="9.8" textLength="10.90" lengthAdjust="spacingAndGlyphs" stroke="#1c1c1c" stroke-width="0.3325">15</text>
<text x="445.36" y="484.70" font-size="9.8" textLength="10.90" lengthAdjust="spacingAndGlyphs" stroke="#1c1c1c" stroke-width="0.3325">10</text>
<text x="450.85" y="519.60" font-size="9.8" textLength="5.45" lengthAdjust="spacingAndGlyphs" stroke="#1c1c1c" stroke-width="0.3325">5</text>
<text x="450.80" y="554.50" font-size="9.8" textLength="5.45" lengthAdjust="spacingAndGlyphs" stroke="#1c1c1c" stroke-width="0.3325">0</text>
<line x1="457.80" y1="551.30" x2="581.70" y2="551.30" stroke="#222" stroke-width="1.2"/>
<line x1="521.50" y1="551.30" x2="521.50" y2="554.70" stroke="#5a5a5a" stroke-width="1.2"/>
<line x1="581.70" y1="551.30" x2="581.70" y2="554.70" stroke="#5a5a5a" stroke-width="1.2"/>
<line x1="492.00" y1="534.00" x2="492.00" y2="522.20" stroke="#000" stroke-width="2"/>
<line x1="489.20" y1="523.20" x2="494.80" y2="523.20" stroke="#000" stroke-width="2"/>
<rect x="478.80" y="532.20" width="26.20" height="18.70" fill="#000"/>
<line x1="552.00" y1="422.00" x2="552.00" y2="388.40" stroke="#000" stroke-width="2"/>
<line x1="549.20" y1="389.40" x2="554.80" y2="389.40" stroke="#000" stroke-width="2"/>
<rect x="540.20" y="421.30" width="23.40" height="130.20" fill="#fff" stroke="#000" stroke-width="2.2"/>
<text x="438.60" y="524.16" font-size="11.7" textLength="123.92" lengthAdjust="spacingAndGlyphs" transform="rotate(-90 438.60 524.16)" stroke="#1c1c1c" stroke-width="0.35">IL-33 mRNA expression</text>
<text x="484.85" y="568.30" font-size="9.6" textLength="14.02" lengthAdjust="spacingAndGlyphs" stroke="#1c1c1c" stroke-width="0.45">WT</text>
<text x="534.82" y="568.30" font-size="9.6" textLength="39.94" lengthAdjust="spacingAndGlyphs" stroke="#1c1c1c" stroke-width="0.45">CCR2−/−</text>
</svg>
</body></html>
